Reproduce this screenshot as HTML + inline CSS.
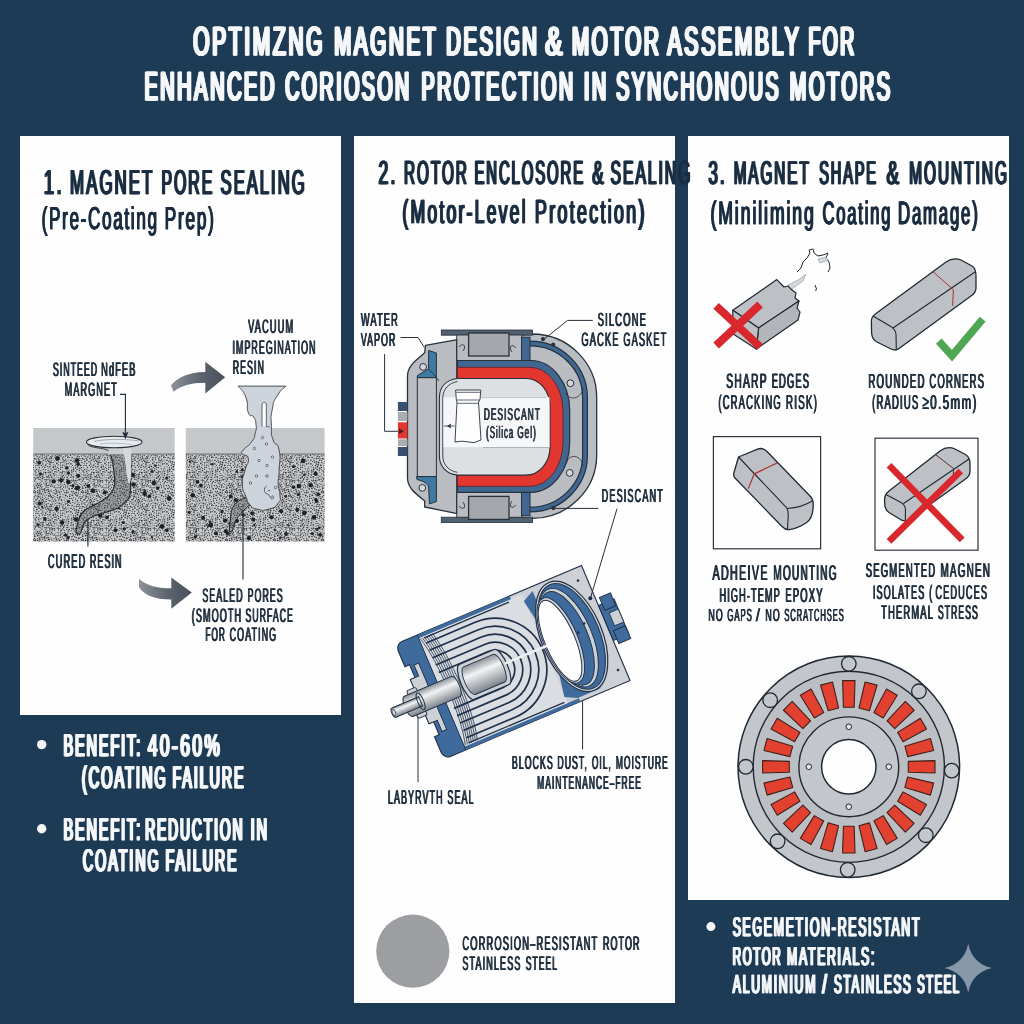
<!DOCTYPE html>
<html><head><meta charset="utf-8"><title>Optimizing Magnet Design</title>
<style>
html,body{margin:0;padding:0;background:#1e3b56;}
body{width:1024px;height:1024px;overflow:hidden;}
svg{display:block;font-family:"Liberation Sans",sans-serif;text-rendering:geometricPrecision;will-change:transform;}
</style></head><body>
<svg width="1024" height="1024" viewBox="0 0 1024 1024">
<rect x="0" y="0" width="1024" height="1024" fill="#1e3b56"/>
<rect x="20" y="136" width="321" height="579" fill="#fefefe"/>
<rect x="354" y="136" width="321" height="867" fill="#fefefe"/>
<rect x="688" y="136" width="321" height="764" fill="#fefefe"/>
<text x="192.27" y="55.2" font-size="40.4" font-weight="normal" fill="#f5f7f9" stroke="#f5f7f9" stroke-width="1.1" stroke-linejoin="round" letter-spacing="0.132em" textLength="131.9" lengthAdjust="spacingAndGlyphs">OPTIMZNG</text>
<text x="192.94" y="55.2" font-size="40.4" font-weight="normal" fill="#f5f7f9" stroke="#f5f7f9" stroke-width="1.1" stroke-linejoin="round" letter-spacing="0.132em" textLength="131.9" lengthAdjust="spacingAndGlyphs">OPTIMZNG</text>
<text x="193.60" y="55.2" font-size="40.4" font-weight="normal" fill="#f5f7f9" stroke="#f5f7f9" stroke-width="1.1" stroke-linejoin="round" letter-spacing="0.132em" textLength="131.9" lengthAdjust="spacingAndGlyphs">OPTIMZNG</text>
<text x="194.27" y="55.2" font-size="40.4" font-weight="normal" fill="#f5f7f9" stroke="#f5f7f9" stroke-width="1.1" stroke-linejoin="round" letter-spacing="0.132em" textLength="131.9" lengthAdjust="spacingAndGlyphs">OPTIMZNG</text>
<text x="333.17" y="55.2" font-size="40.4" font-weight="normal" fill="#f5f7f9" stroke="#f5f7f9" stroke-width="1.1" stroke-linejoin="round" letter-spacing="0.132em" textLength="104.0" lengthAdjust="spacingAndGlyphs">MAGNET</text>
<text x="333.84" y="55.2" font-size="40.4" font-weight="normal" fill="#f5f7f9" stroke="#f5f7f9" stroke-width="1.1" stroke-linejoin="round" letter-spacing="0.132em" textLength="104.0" lengthAdjust="spacingAndGlyphs">MAGNET</text>
<text x="334.50" y="55.2" font-size="40.4" font-weight="normal" fill="#f5f7f9" stroke="#f5f7f9" stroke-width="1.1" stroke-linejoin="round" letter-spacing="0.132em" textLength="104.0" lengthAdjust="spacingAndGlyphs">MAGNET</text>
<text x="335.17" y="55.2" font-size="40.4" font-weight="normal" fill="#f5f7f9" stroke="#f5f7f9" stroke-width="1.1" stroke-linejoin="round" letter-spacing="0.132em" textLength="104.0" lengthAdjust="spacingAndGlyphs">MAGNET</text>
<text x="445.27" y="55.2" font-size="40.4" font-weight="normal" fill="#f5f7f9" stroke="#f5f7f9" stroke-width="1.1" stroke-linejoin="round" letter-spacing="0.132em" textLength="93.3" lengthAdjust="spacingAndGlyphs">DESIGN</text>
<text x="445.94" y="55.2" font-size="40.4" font-weight="normal" fill="#f5f7f9" stroke="#f5f7f9" stroke-width="1.1" stroke-linejoin="round" letter-spacing="0.132em" textLength="93.3" lengthAdjust="spacingAndGlyphs">DESIGN</text>
<text x="446.60" y="55.2" font-size="40.4" font-weight="normal" fill="#f5f7f9" stroke="#f5f7f9" stroke-width="1.1" stroke-linejoin="round" letter-spacing="0.132em" textLength="93.3" lengthAdjust="spacingAndGlyphs">DESIGN</text>
<text x="447.27" y="55.2" font-size="40.4" font-weight="normal" fill="#f5f7f9" stroke="#f5f7f9" stroke-width="1.1" stroke-linejoin="round" letter-spacing="0.132em" textLength="93.3" lengthAdjust="spacingAndGlyphs">DESIGN</text>
<text x="544.37" y="55.2" font-size="40.4" font-weight="normal" fill="#f5f7f9" stroke="#f5f7f9" stroke-width="1.1" stroke-linejoin="round" letter-spacing="0.132em" textLength="20.4" lengthAdjust="spacingAndGlyphs">&amp;</text>
<text x="545.04" y="55.2" font-size="40.4" font-weight="normal" fill="#f5f7f9" stroke="#f5f7f9" stroke-width="1.1" stroke-linejoin="round" letter-spacing="0.132em" textLength="20.4" lengthAdjust="spacingAndGlyphs">&amp;</text>
<text x="545.70" y="55.2" font-size="40.4" font-weight="normal" fill="#f5f7f9" stroke="#f5f7f9" stroke-width="1.1" stroke-linejoin="round" letter-spacing="0.132em" textLength="20.4" lengthAdjust="spacingAndGlyphs">&amp;</text>
<text x="546.37" y="55.2" font-size="40.4" font-weight="normal" fill="#f5f7f9" stroke="#f5f7f9" stroke-width="1.1" stroke-linejoin="round" letter-spacing="0.132em" textLength="20.4" lengthAdjust="spacingAndGlyphs">&amp;</text>
<text x="570.97" y="55.2" font-size="40.4" font-weight="normal" fill="#f5f7f9" stroke="#f5f7f9" stroke-width="1.1" stroke-linejoin="round" letter-spacing="0.132em" textLength="89.5" lengthAdjust="spacingAndGlyphs">MOTOR</text>
<text x="571.64" y="55.2" font-size="40.4" font-weight="normal" fill="#f5f7f9" stroke="#f5f7f9" stroke-width="1.1" stroke-linejoin="round" letter-spacing="0.132em" textLength="89.5" lengthAdjust="spacingAndGlyphs">MOTOR</text>
<text x="572.30" y="55.2" font-size="40.4" font-weight="normal" fill="#f5f7f9" stroke="#f5f7f9" stroke-width="1.1" stroke-linejoin="round" letter-spacing="0.132em" textLength="89.5" lengthAdjust="spacingAndGlyphs">MOTOR</text>
<text x="572.97" y="55.2" font-size="40.4" font-weight="normal" fill="#f5f7f9" stroke="#f5f7f9" stroke-width="1.1" stroke-linejoin="round" letter-spacing="0.132em" textLength="89.5" lengthAdjust="spacingAndGlyphs">MOTOR</text>
<text x="666.57" y="55.2" font-size="40.4" font-weight="normal" fill="#f5f7f9" stroke="#f5f7f9" stroke-width="1.1" stroke-linejoin="round" letter-spacing="0.132em" textLength="133.9" lengthAdjust="spacingAndGlyphs">ASSEMBLY</text>
<text x="667.24" y="55.2" font-size="40.4" font-weight="normal" fill="#f5f7f9" stroke="#f5f7f9" stroke-width="1.1" stroke-linejoin="round" letter-spacing="0.132em" textLength="133.9" lengthAdjust="spacingAndGlyphs">ASSEMBLY</text>
<text x="667.90" y="55.2" font-size="40.4" font-weight="normal" fill="#f5f7f9" stroke="#f5f7f9" stroke-width="1.1" stroke-linejoin="round" letter-spacing="0.132em" textLength="133.9" lengthAdjust="spacingAndGlyphs">ASSEMBLY</text>
<text x="668.57" y="55.2" font-size="40.4" font-weight="normal" fill="#f5f7f9" stroke="#f5f7f9" stroke-width="1.1" stroke-linejoin="round" letter-spacing="0.132em" textLength="133.9" lengthAdjust="spacingAndGlyphs">ASSEMBLY</text>
<text x="807.47" y="55.2" font-size="40.4" font-weight="normal" fill="#f5f7f9" stroke="#f5f7f9" stroke-width="1.1" stroke-linejoin="round" letter-spacing="0.132em" textLength="48.4" lengthAdjust="spacingAndGlyphs">FOR</text>
<text x="808.14" y="55.2" font-size="40.4" font-weight="normal" fill="#f5f7f9" stroke="#f5f7f9" stroke-width="1.1" stroke-linejoin="round" letter-spacing="0.132em" textLength="48.4" lengthAdjust="spacingAndGlyphs">FOR</text>
<text x="808.80" y="55.2" font-size="40.4" font-weight="normal" fill="#f5f7f9" stroke="#f5f7f9" stroke-width="1.1" stroke-linejoin="round" letter-spacing="0.132em" textLength="48.4" lengthAdjust="spacingAndGlyphs">FOR</text>
<text x="809.47" y="55.2" font-size="40.4" font-weight="normal" fill="#f5f7f9" stroke="#f5f7f9" stroke-width="1.1" stroke-linejoin="round" letter-spacing="0.132em" textLength="48.4" lengthAdjust="spacingAndGlyphs">FOR</text>
<text x="143.47" y="100.4" font-size="40.4" font-weight="normal" fill="#f5f7f9" stroke="#f5f7f9" stroke-width="1.1" stroke-linejoin="round" letter-spacing="0.132em" textLength="132.5" lengthAdjust="spacingAndGlyphs">ENHANCED</text>
<text x="144.14" y="100.4" font-size="40.4" font-weight="normal" fill="#f5f7f9" stroke="#f5f7f9" stroke-width="1.1" stroke-linejoin="round" letter-spacing="0.132em" textLength="132.5" lengthAdjust="spacingAndGlyphs">ENHANCED</text>
<text x="144.80" y="100.4" font-size="40.4" font-weight="normal" fill="#f5f7f9" stroke="#f5f7f9" stroke-width="1.1" stroke-linejoin="round" letter-spacing="0.132em" textLength="132.5" lengthAdjust="spacingAndGlyphs">ENHANCED</text>
<text x="145.47" y="100.4" font-size="40.4" font-weight="normal" fill="#f5f7f9" stroke="#f5f7f9" stroke-width="1.1" stroke-linejoin="round" letter-spacing="0.132em" textLength="132.5" lengthAdjust="spacingAndGlyphs">ENHANCED</text>
<text x="284.17" y="100.4" font-size="40.4" font-weight="normal" fill="#f5f7f9" stroke="#f5f7f9" stroke-width="1.1" stroke-linejoin="round" letter-spacing="0.132em" textLength="126.6" lengthAdjust="spacingAndGlyphs">CORIOSON</text>
<text x="284.84" y="100.4" font-size="40.4" font-weight="normal" fill="#f5f7f9" stroke="#f5f7f9" stroke-width="1.1" stroke-linejoin="round" letter-spacing="0.132em" textLength="126.6" lengthAdjust="spacingAndGlyphs">CORIOSON</text>
<text x="285.50" y="100.4" font-size="40.4" font-weight="normal" fill="#f5f7f9" stroke="#f5f7f9" stroke-width="1.1" stroke-linejoin="round" letter-spacing="0.132em" textLength="126.6" lengthAdjust="spacingAndGlyphs">CORIOSON</text>
<text x="286.17" y="100.4" font-size="40.4" font-weight="normal" fill="#f5f7f9" stroke="#f5f7f9" stroke-width="1.1" stroke-linejoin="round" letter-spacing="0.132em" textLength="126.6" lengthAdjust="spacingAndGlyphs">CORIOSON</text>
<text x="420.57" y="100.4" font-size="40.4" font-weight="normal" fill="#f5f7f9" stroke="#f5f7f9" stroke-width="1.1" stroke-linejoin="round" letter-spacing="0.132em" textLength="154.2" lengthAdjust="spacingAndGlyphs">PROTECTION</text>
<text x="421.24" y="100.4" font-size="40.4" font-weight="normal" fill="#f5f7f9" stroke="#f5f7f9" stroke-width="1.1" stroke-linejoin="round" letter-spacing="0.132em" textLength="154.2" lengthAdjust="spacingAndGlyphs">PROTECTION</text>
<text x="421.90" y="100.4" font-size="40.4" font-weight="normal" fill="#f5f7f9" stroke="#f5f7f9" stroke-width="1.1" stroke-linejoin="round" letter-spacing="0.132em" textLength="154.2" lengthAdjust="spacingAndGlyphs">PROTECTION</text>
<text x="422.57" y="100.4" font-size="40.4" font-weight="normal" fill="#f5f7f9" stroke="#f5f7f9" stroke-width="1.1" stroke-linejoin="round" letter-spacing="0.132em" textLength="154.2" lengthAdjust="spacingAndGlyphs">PROTECTION</text>
<text x="583.07" y="100.4" font-size="40.4" font-weight="normal" fill="#f5f7f9" stroke="#f5f7f9" stroke-width="1.1" stroke-linejoin="round" letter-spacing="0.132em" textLength="24.7" lengthAdjust="spacingAndGlyphs">IN</text>
<text x="583.74" y="100.4" font-size="40.4" font-weight="normal" fill="#f5f7f9" stroke="#f5f7f9" stroke-width="1.1" stroke-linejoin="round" letter-spacing="0.132em" textLength="24.7" lengthAdjust="spacingAndGlyphs">IN</text>
<text x="584.40" y="100.4" font-size="40.4" font-weight="normal" fill="#f5f7f9" stroke="#f5f7f9" stroke-width="1.1" stroke-linejoin="round" letter-spacing="0.132em" textLength="24.7" lengthAdjust="spacingAndGlyphs">IN</text>
<text x="585.07" y="100.4" font-size="40.4" font-weight="normal" fill="#f5f7f9" stroke="#f5f7f9" stroke-width="1.1" stroke-linejoin="round" letter-spacing="0.132em" textLength="24.7" lengthAdjust="spacingAndGlyphs">IN</text>
<text x="615.27" y="100.4" font-size="40.4" font-weight="normal" fill="#f5f7f9" stroke="#f5f7f9" stroke-width="1.1" stroke-linejoin="round" letter-spacing="0.132em" textLength="164.7" lengthAdjust="spacingAndGlyphs">SYNCHONOUS</text>
<text x="615.94" y="100.4" font-size="40.4" font-weight="normal" fill="#f5f7f9" stroke="#f5f7f9" stroke-width="1.1" stroke-linejoin="round" letter-spacing="0.132em" textLength="164.7" lengthAdjust="spacingAndGlyphs">SYNCHONOUS</text>
<text x="616.60" y="100.4" font-size="40.4" font-weight="normal" fill="#f5f7f9" stroke="#f5f7f9" stroke-width="1.1" stroke-linejoin="round" letter-spacing="0.132em" textLength="164.7" lengthAdjust="spacingAndGlyphs">SYNCHONOUS</text>
<text x="617.27" y="100.4" font-size="40.4" font-weight="normal" fill="#f5f7f9" stroke="#f5f7f9" stroke-width="1.1" stroke-linejoin="round" letter-spacing="0.132em" textLength="164.7" lengthAdjust="spacingAndGlyphs">SYNCHONOUS</text>
<text x="788.67" y="100.4" font-size="40.4" font-weight="normal" fill="#f5f7f9" stroke="#f5f7f9" stroke-width="1.1" stroke-linejoin="round" letter-spacing="0.132em" textLength="103.0" lengthAdjust="spacingAndGlyphs">MOTORS</text>
<text x="789.34" y="100.4" font-size="40.4" font-weight="normal" fill="#f5f7f9" stroke="#f5f7f9" stroke-width="1.1" stroke-linejoin="round" letter-spacing="0.132em" textLength="103.0" lengthAdjust="spacingAndGlyphs">MOTORS</text>
<text x="790.00" y="100.4" font-size="40.4" font-weight="normal" fill="#f5f7f9" stroke="#f5f7f9" stroke-width="1.1" stroke-linejoin="round" letter-spacing="0.132em" textLength="103.0" lengthAdjust="spacingAndGlyphs">MOTORS</text>
<text x="790.67" y="100.4" font-size="40.4" font-weight="normal" fill="#f5f7f9" stroke="#f5f7f9" stroke-width="1.1" stroke-linejoin="round" letter-spacing="0.132em" textLength="103.0" lengthAdjust="spacingAndGlyphs">MOTORS</text>
<text x="43.03" y="194.0" font-size="34.5" font-weight="normal" fill="#1b2e42" stroke="#1b2e42" stroke-width="0.45" stroke-linejoin="round" letter-spacing="0.124em" textLength="20.3" lengthAdjust="spacingAndGlyphs">1.</text>
<text x="43.78" y="194.0" font-size="34.5" font-weight="normal" fill="#1b2e42" stroke="#1b2e42" stroke-width="0.45" stroke-linejoin="round" letter-spacing="0.124em" textLength="20.3" lengthAdjust="spacingAndGlyphs">1.</text>
<text x="44.53" y="194.0" font-size="34.5" font-weight="normal" fill="#1b2e42" stroke="#1b2e42" stroke-width="0.45" stroke-linejoin="round" letter-spacing="0.124em" textLength="20.3" lengthAdjust="spacingAndGlyphs">1.</text>
<text x="69.33" y="194.0" font-size="34.5" font-weight="normal" fill="#1b2e42" stroke="#1b2e42" stroke-width="0.45" stroke-linejoin="round" letter-spacing="0.124em" textLength="84.4" lengthAdjust="spacingAndGlyphs">MAGNET</text>
<text x="70.08" y="194.0" font-size="34.5" font-weight="normal" fill="#1b2e42" stroke="#1b2e42" stroke-width="0.45" stroke-linejoin="round" letter-spacing="0.124em" textLength="84.4" lengthAdjust="spacingAndGlyphs">MAGNET</text>
<text x="70.83" y="194.0" font-size="34.5" font-weight="normal" fill="#1b2e42" stroke="#1b2e42" stroke-width="0.45" stroke-linejoin="round" letter-spacing="0.124em" textLength="84.4" lengthAdjust="spacingAndGlyphs">MAGNET</text>
<text x="160.73" y="194.0" font-size="34.5" font-weight="normal" fill="#1b2e42" stroke="#1b2e42" stroke-width="0.45" stroke-linejoin="round" letter-spacing="0.124em" textLength="52.7" lengthAdjust="spacingAndGlyphs">PORE</text>
<text x="161.48" y="194.0" font-size="34.5" font-weight="normal" fill="#1b2e42" stroke="#1b2e42" stroke-width="0.45" stroke-linejoin="round" letter-spacing="0.124em" textLength="52.7" lengthAdjust="spacingAndGlyphs">PORE</text>
<text x="162.23" y="194.0" font-size="34.5" font-weight="normal" fill="#1b2e42" stroke="#1b2e42" stroke-width="0.45" stroke-linejoin="round" letter-spacing="0.124em" textLength="52.7" lengthAdjust="spacingAndGlyphs">PORE</text>
<text x="219.83" y="194.0" font-size="34.5" font-weight="normal" fill="#1b2e42" stroke="#1b2e42" stroke-width="0.45" stroke-linejoin="round" letter-spacing="0.124em" textLength="86.1" lengthAdjust="spacingAndGlyphs">SEALING</text>
<text x="220.58" y="194.0" font-size="34.5" font-weight="normal" fill="#1b2e42" stroke="#1b2e42" stroke-width="0.45" stroke-linejoin="round" letter-spacing="0.124em" textLength="86.1" lengthAdjust="spacingAndGlyphs">SEALING</text>
<text x="221.33" y="194.0" font-size="34.5" font-weight="normal" fill="#1b2e42" stroke="#1b2e42" stroke-width="0.45" stroke-linejoin="round" letter-spacing="0.124em" textLength="86.1" lengthAdjust="spacingAndGlyphs">SEALING</text>
<text x="41.32" y="228.6" font-size="31.5" font-weight="normal" fill="#1b2e42" stroke="#1b2e42" stroke-width="0.45" stroke-linejoin="round" letter-spacing="0.102em" textLength="117.0" lengthAdjust="spacingAndGlyphs">(Pre-Coating</text>
<text x="41.72" y="228.6" font-size="31.5" font-weight="normal" fill="#1b2e42" stroke="#1b2e42" stroke-width="0.45" stroke-linejoin="round" letter-spacing="0.102em" textLength="117.0" lengthAdjust="spacingAndGlyphs">(Pre-Coating</text>
<text x="42.12" y="228.6" font-size="31.5" font-weight="normal" fill="#1b2e42" stroke="#1b2e42" stroke-width="0.45" stroke-linejoin="round" letter-spacing="0.102em" textLength="117.0" lengthAdjust="spacingAndGlyphs">(Pre-Coating</text>
<text x="164.32" y="228.6" font-size="31.5" font-weight="normal" fill="#1b2e42" stroke="#1b2e42" stroke-width="0.45" stroke-linejoin="round" letter-spacing="0.102em" textLength="51.0" lengthAdjust="spacingAndGlyphs">Prep)</text>
<text x="164.72" y="228.6" font-size="31.5" font-weight="normal" fill="#1b2e42" stroke="#1b2e42" stroke-width="0.45" stroke-linejoin="round" letter-spacing="0.102em" textLength="51.0" lengthAdjust="spacingAndGlyphs">Prep)</text>
<text x="165.12" y="228.6" font-size="31.5" font-weight="normal" fill="#1b2e42" stroke="#1b2e42" stroke-width="0.45" stroke-linejoin="round" letter-spacing="0.102em" textLength="51.0" lengthAdjust="spacingAndGlyphs">Prep)</text>
<text x="247.75" y="333.4" font-size="19.5" font-weight="normal" fill="#1f2e3d" letter-spacing="0.125em" textLength="46.1" lengthAdjust="spacingAndGlyphs">VACUUM</text>
<text x="248.18" y="333.4" font-size="19.5" font-weight="normal" fill="#1f2e3d" letter-spacing="0.125em" textLength="46.1" lengthAdjust="spacingAndGlyphs">VACUUM</text>
<text x="248.61" y="333.4" font-size="19.5" font-weight="normal" fill="#1f2e3d" letter-spacing="0.125em" textLength="46.1" lengthAdjust="spacingAndGlyphs">VACUUM</text>
<text x="232.05" y="353.7" font-size="19.5" font-weight="normal" fill="#1f2e3d" letter-spacing="0.125em" textLength="84.1" lengthAdjust="spacingAndGlyphs">IMPREGINATION</text>
<text x="232.48" y="353.7" font-size="19.5" font-weight="normal" fill="#1f2e3d" letter-spacing="0.125em" textLength="84.1" lengthAdjust="spacingAndGlyphs">IMPREGINATION</text>
<text x="232.91" y="353.7" font-size="19.5" font-weight="normal" fill="#1f2e3d" letter-spacing="0.125em" textLength="84.1" lengthAdjust="spacingAndGlyphs">IMPREGINATION</text>
<text x="232.35" y="374.2" font-size="19.5" font-weight="normal" fill="#1f2e3d" letter-spacing="0.125em" textLength="32.2" lengthAdjust="spacingAndGlyphs">RESIN</text>
<text x="232.78" y="374.2" font-size="19.5" font-weight="normal" fill="#1f2e3d" letter-spacing="0.125em" textLength="32.2" lengthAdjust="spacingAndGlyphs">RESIN</text>
<text x="233.21" y="374.2" font-size="19.5" font-weight="normal" fill="#1f2e3d" letter-spacing="0.125em" textLength="32.2" lengthAdjust="spacingAndGlyphs">RESIN</text>
<text x="52.55" y="376.0" font-size="19.5" font-weight="normal" fill="#1f2e3d" letter-spacing="0.125em" textLength="45.2" lengthAdjust="spacingAndGlyphs">SINTEED</text>
<text x="52.98" y="376.0" font-size="19.5" font-weight="normal" fill="#1f2e3d" letter-spacing="0.125em" textLength="45.2" lengthAdjust="spacingAndGlyphs">SINTEED</text>
<text x="53.41" y="376.0" font-size="19.5" font-weight="normal" fill="#1f2e3d" letter-spacing="0.125em" textLength="45.2" lengthAdjust="spacingAndGlyphs">SINTEED</text>
<text x="100.75" y="376.0" font-size="19.5" font-weight="normal" fill="#1f2e3d" letter-spacing="0.125em" textLength="35.3" lengthAdjust="spacingAndGlyphs">NdFEB</text>
<text x="101.18" y="376.0" font-size="19.5" font-weight="normal" fill="#1f2e3d" letter-spacing="0.125em" textLength="35.3" lengthAdjust="spacingAndGlyphs">NdFEB</text>
<text x="101.61" y="376.0" font-size="19.5" font-weight="normal" fill="#1f2e3d" letter-spacing="0.125em" textLength="35.3" lengthAdjust="spacingAndGlyphs">NdFEB</text>
<text x="64.25" y="396.0" font-size="19.5" font-weight="normal" fill="#1f2e3d" letter-spacing="0.125em" textLength="53.1" lengthAdjust="spacingAndGlyphs">MARGNET</text>
<text x="64.68" y="396.0" font-size="19.5" font-weight="normal" fill="#1f2e3d" letter-spacing="0.125em" textLength="53.1" lengthAdjust="spacingAndGlyphs">MARGNET</text>
<text x="65.11" y="396.0" font-size="19.5" font-weight="normal" fill="#1f2e3d" letter-spacing="0.125em" textLength="53.1" lengthAdjust="spacingAndGlyphs">MARGNET</text>
<text x="47.44" y="567.8" font-size="20" font-weight="normal" fill="#1f2e3d" letter-spacing="0.125em" textLength="38.5" lengthAdjust="spacingAndGlyphs">CURED</text>
<text x="47.88" y="567.8" font-size="20" font-weight="normal" fill="#1f2e3d" letter-spacing="0.125em" textLength="38.5" lengthAdjust="spacingAndGlyphs">CURED</text>
<text x="48.32" y="567.8" font-size="20" font-weight="normal" fill="#1f2e3d" letter-spacing="0.125em" textLength="38.5" lengthAdjust="spacingAndGlyphs">CURED</text>
<text x="89.44" y="567.8" font-size="20" font-weight="normal" fill="#1f2e3d" letter-spacing="0.125em" textLength="32.7" lengthAdjust="spacingAndGlyphs">RESIN</text>
<text x="89.88" y="567.8" font-size="20" font-weight="normal" fill="#1f2e3d" letter-spacing="0.125em" textLength="32.7" lengthAdjust="spacingAndGlyphs">RESIN</text>
<text x="90.32" y="567.8" font-size="20" font-weight="normal" fill="#1f2e3d" letter-spacing="0.125em" textLength="32.7" lengthAdjust="spacingAndGlyphs">RESIN</text>
<text x="201.95" y="602.0" font-size="19.5" font-weight="normal" fill="#1f2e3d" letter-spacing="0.125em" textLength="41.3" lengthAdjust="spacingAndGlyphs">SEALED</text>
<text x="202.38" y="602.0" font-size="19.5" font-weight="normal" fill="#1f2e3d" letter-spacing="0.125em" textLength="41.3" lengthAdjust="spacingAndGlyphs">SEALED</text>
<text x="202.81" y="602.0" font-size="19.5" font-weight="normal" fill="#1f2e3d" letter-spacing="0.125em" textLength="41.3" lengthAdjust="spacingAndGlyphs">SEALED</text>
<text x="247.25" y="602.0" font-size="19.5" font-weight="normal" fill="#1f2e3d" letter-spacing="0.125em" textLength="36.0" lengthAdjust="spacingAndGlyphs">PORES</text>
<text x="247.68" y="602.0" font-size="19.5" font-weight="normal" fill="#1f2e3d" letter-spacing="0.125em" textLength="36.0" lengthAdjust="spacingAndGlyphs">PORES</text>
<text x="248.11" y="602.0" font-size="19.5" font-weight="normal" fill="#1f2e3d" letter-spacing="0.125em" textLength="36.0" lengthAdjust="spacingAndGlyphs">PORES</text>
<text x="191.35" y="621.8" font-size="19.5" font-weight="normal" fill="#1f2e3d" letter-spacing="0.125em" textLength="50.4" lengthAdjust="spacingAndGlyphs">(SMOOTH</text>
<text x="191.78" y="621.8" font-size="19.5" font-weight="normal" fill="#1f2e3d" letter-spacing="0.125em" textLength="50.4" lengthAdjust="spacingAndGlyphs">(SMOOTH</text>
<text x="192.21" y="621.8" font-size="19.5" font-weight="normal" fill="#1f2e3d" letter-spacing="0.125em" textLength="50.4" lengthAdjust="spacingAndGlyphs">(SMOOTH</text>
<text x="245.05" y="621.8" font-size="19.5" font-weight="normal" fill="#1f2e3d" letter-spacing="0.125em" textLength="48.5" lengthAdjust="spacingAndGlyphs">SURFACE</text>
<text x="245.48" y="621.8" font-size="19.5" font-weight="normal" fill="#1f2e3d" letter-spacing="0.125em" textLength="48.5" lengthAdjust="spacingAndGlyphs">SURFACE</text>
<text x="245.91" y="621.8" font-size="19.5" font-weight="normal" fill="#1f2e3d" letter-spacing="0.125em" textLength="48.5" lengthAdjust="spacingAndGlyphs">SURFACE</text>
<text x="205.05" y="641.4" font-size="19.5" font-weight="normal" fill="#1f2e3d" letter-spacing="0.125em" textLength="20.4" lengthAdjust="spacingAndGlyphs">FOR</text>
<text x="205.48" y="641.4" font-size="19.5" font-weight="normal" fill="#1f2e3d" letter-spacing="0.125em" textLength="20.4" lengthAdjust="spacingAndGlyphs">FOR</text>
<text x="205.91" y="641.4" font-size="19.5" font-weight="normal" fill="#1f2e3d" letter-spacing="0.125em" textLength="20.4" lengthAdjust="spacingAndGlyphs">FOR</text>
<text x="229.25" y="641.4" font-size="19.5" font-weight="normal" fill="#1f2e3d" letter-spacing="0.125em" textLength="47.5" lengthAdjust="spacingAndGlyphs">COATING</text>
<text x="229.68" y="641.4" font-size="19.5" font-weight="normal" fill="#1f2e3d" letter-spacing="0.125em" textLength="47.5" lengthAdjust="spacingAndGlyphs">COATING</text>
<text x="230.11" y="641.4" font-size="19.5" font-weight="normal" fill="#1f2e3d" letter-spacing="0.125em" textLength="47.5" lengthAdjust="spacingAndGlyphs">COATING</text>
<defs><pattern id="stip" width="48" height="48" patternUnits="userSpaceOnUse"><rect width="48" height="48" fill="#c9cacb"/><circle cx="15.5" cy="7.2" r="0.59" fill="#33363a"/><circle cx="31.2" cy="3.5" r="0.52" fill="#33363a"/><circle cx="25.7" cy="17.6" r="0.55" fill="#33363a"/><circle cx="2.8" cy="24.4" r="0.76" fill="#33363a"/><circle cx="1.8" cy="20.8" r="0.72" fill="#33363a"/><circle cx="3.4" cy="4.4" r="0.65" fill="#33363a"/><circle cx="20.4" cy="39.7" r="0.78" fill="#33363a"/><circle cx="5.9" cy="10.7" r="0.59" fill="#33363a"/><circle cx="30.1" cy="45.5" r="0.74" fill="#33363a"/><circle cx="27.7" cy="19.0" r="0.67" fill="#33363a"/><circle cx="46.9" cy="2.2" r="0.56" fill="#33363a"/><circle cx="41.2" cy="13.9" r="0.81" fill="#33363a"/><circle cx="6.9" cy="5.7" r="0.57" fill="#33363a"/><circle cx="14.8" cy="39.2" r="0.82" fill="#33363a"/><circle cx="8.7" cy="27.9" r="0.80" fill="#33363a"/><circle cx="30.7" cy="17.9" r="0.67" fill="#33363a"/><circle cx="26.3" cy="3.0" r="0.68" fill="#33363a"/><circle cx="2.9" cy="9.9" r="0.58" fill="#33363a"/><circle cx="32.7" cy="20.5" r="0.56" fill="#33363a"/><circle cx="15.1" cy="28.1" r="0.78" fill="#33363a"/><circle cx="21.8" cy="14.4" r="0.65" fill="#33363a"/><circle cx="38.1" cy="33.6" r="0.73" fill="#33363a"/><circle cx="11.7" cy="27.6" r="0.65" fill="#33363a"/><circle cx="25.2" cy="42.0" r="0.61" fill="#33363a"/><circle cx="35.0" cy="13.8" r="0.57" fill="#33363a"/><circle cx="47.0" cy="5.7" r="0.80" fill="#33363a"/><circle cx="-1.0" cy="5.7" r="0.80" fill="#33363a"/><circle cx="20.1" cy="36.3" r="0.67" fill="#33363a"/><circle cx="7.3" cy="23.5" r="0.56" fill="#33363a"/><circle cx="1.9" cy="32.1" r="0.85" fill="#33363a"/><circle cx="36.7" cy="27.5" r="0.56" fill="#33363a"/><circle cx="33.4" cy="28.5" r="0.59" fill="#33363a"/><circle cx="27.8" cy="21.9" r="0.56" fill="#33363a"/><circle cx="40.3" cy="45.3" r="0.72" fill="#33363a"/><circle cx="22.8" cy="31.9" r="0.81" fill="#33363a"/><circle cx="2.9" cy="33.7" r="0.51" fill="#33363a"/><circle cx="31.1" cy="47.7" r="0.87" fill="#33363a"/><circle cx="31.1" cy="-0.3" r="0.87" fill="#33363a"/><circle cx="39.5" cy="13.7" r="0.78" fill="#33363a"/><circle cx="18.5" cy="32.1" r="0.83" fill="#33363a"/><circle cx="2.8" cy="36.9" r="0.67" fill="#33363a"/><circle cx="18.8" cy="41.8" r="0.67" fill="#33363a"/><circle cx="3.9" cy="21.6" r="0.54" fill="#33363a"/><circle cx="39.3" cy="41.5" r="0.60" fill="#33363a"/><circle cx="13.4" cy="19.9" r="0.85" fill="#33363a"/><circle cx="46.0" cy="7.2" r="0.61" fill="#33363a"/><circle cx="8.5" cy="11.1" r="0.86" fill="#33363a"/><circle cx="11.2" cy="23.3" r="0.83" fill="#33363a"/><circle cx="28.3" cy="12.6" r="0.87" fill="#33363a"/><circle cx="0.2" cy="20.1" r="0.56" fill="#33363a"/><circle cx="48.2" cy="20.1" r="0.56" fill="#33363a"/><circle cx="17.7" cy="27.2" r="0.67" fill="#33363a"/><circle cx="45.7" cy="33.1" r="0.83" fill="#33363a"/><circle cx="24.7" cy="29.6" r="0.62" fill="#33363a"/><circle cx="43.2" cy="37.4" r="0.60" fill="#33363a"/><circle cx="18.8" cy="19.2" r="0.51" fill="#33363a"/><circle cx="5.0" cy="30.4" r="0.71" fill="#33363a"/><circle cx="10.0" cy="7.8" r="0.72" fill="#33363a"/><circle cx="16.3" cy="2.5" r="0.58" fill="#33363a"/><circle cx="0.0" cy="7.3" r="0.60" fill="#33363a"/><circle cx="48.0" cy="7.3" r="0.60" fill="#33363a"/><circle cx="4.9" cy="17.5" r="0.75" fill="#33363a"/><circle cx="1.2" cy="42.0" r="0.57" fill="#33363a"/><circle cx="29.5" cy="7.1" r="0.81" fill="#33363a"/><circle cx="12.1" cy="16.7" r="0.85" fill="#33363a"/><circle cx="17.5" cy="5.9" r="0.67" fill="#33363a"/><circle cx="40.7" cy="47.7" r="0.55" fill="#33363a"/><circle cx="40.7" cy="-0.3" r="0.55" fill="#33363a"/><circle cx="22.4" cy="23.2" r="0.73" fill="#33363a"/><circle cx="16.4" cy="12.7" r="0.62" fill="#33363a"/><circle cx="39.8" cy="7.7" r="0.54" fill="#33363a"/><circle cx="1.1" cy="45.6" r="0.78" fill="#33363a"/><circle cx="25.4" cy="7.0" r="0.72" fill="#33363a"/><circle cx="25.3" cy="47.0" r="0.61" fill="#33363a"/><circle cx="41.4" cy="33.4" r="0.60" fill="#33363a"/><circle cx="8.0" cy="37.1" r="0.79" fill="#33363a"/><circle cx="25.6" cy="37.4" r="0.87" fill="#33363a"/><circle cx="15.8" cy="10.7" r="0.64" fill="#33363a"/><circle cx="39.0" cy="47.3" r="0.73" fill="#33363a"/><circle cx="39.0" cy="-0.7" r="0.73" fill="#33363a"/><circle cx="40.9" cy="38.7" r="0.59" fill="#33363a"/><circle cx="39.3" cy="35.5" r="0.69" fill="#33363a"/><circle cx="1.3" cy="13.4" r="0.73" fill="#33363a"/><circle cx="12.4" cy="33.2" r="0.62" fill="#33363a"/><circle cx="45.9" cy="21.5" r="0.74" fill="#33363a"/><circle cx="45.0" cy="47.4" r="0.72" fill="#33363a"/><circle cx="45.0" cy="-0.6" r="0.72" fill="#33363a"/><circle cx="45.8" cy="17.5" r="0.52" fill="#33363a"/><circle cx="10.6" cy="10.9" r="0.55" fill="#33363a"/><circle cx="30.0" cy="43.2" r="0.67" fill="#33363a"/><circle cx="40.3" cy="23.0" r="0.56" fill="#33363a"/><circle cx="31.3" cy="38.4" r="0.72" fill="#33363a"/><circle cx="36.0" cy="22.9" r="0.74" fill="#33363a"/><circle cx="19.3" cy="45.4" r="0.75" fill="#33363a"/><circle cx="34.8" cy="8.2" r="0.85" fill="#33363a"/><circle cx="6.1" cy="7.3" r="0.74" fill="#33363a"/><circle cx="7.0" cy="39.7" r="0.81" fill="#33363a"/><circle cx="47.1" cy="31.5" r="0.55" fill="#33363a"/><circle cx="-0.9" cy="31.5" r="0.55" fill="#33363a"/><circle cx="6.3" cy="0.7" r="0.85" fill="#33363a"/><circle cx="6.3" cy="48.7" r="0.85" fill="#33363a"/><circle cx="25.3" cy="44.8" r="0.87" fill="#33363a"/><circle cx="20.8" cy="41.8" r="0.74" fill="#33363a"/><circle cx="39.7" cy="10.1" r="0.83" fill="#33363a"/><circle cx="12.1" cy="14.1" r="0.72" fill="#33363a"/><circle cx="6.3" cy="43.7" r="0.67" fill="#33363a"/><circle cx="17.0" cy="22.0" r="0.56" fill="#33363a"/><circle cx="28.0" cy="43.4" r="0.69" fill="#33363a"/><circle cx="24.1" cy="25.5" r="0.79" fill="#33363a"/><circle cx="25.1" cy="0.9" r="0.82" fill="#33363a"/><circle cx="25.1" cy="48.9" r="0.82" fill="#33363a"/><circle cx="21.1" cy="8.8" r="0.86" fill="#33363a"/><circle cx="0.2" cy="38.4" r="0.71" fill="#33363a"/><circle cx="48.2" cy="38.4" r="0.71" fill="#33363a"/><circle cx="34.8" cy="26.7" r="0.88" fill="#33363a"/><circle cx="15.6" cy="24.9" r="0.65" fill="#33363a"/><circle cx="5.1" cy="26.9" r="0.51" fill="#33363a"/><circle cx="37.1" cy="24.4" r="0.67" fill="#33363a"/><circle cx="43.8" cy="21.3" r="0.72" fill="#33363a"/><circle cx="29.4" cy="24.3" r="0.81" fill="#33363a"/><circle cx="24.6" cy="33.3" r="0.59" fill="#33363a"/><circle cx="21.7" cy="25.6" r="0.51" fill="#33363a"/><circle cx="22.9" cy="45.2" r="0.79" fill="#33363a"/><circle cx="33.6" cy="42.1" r="0.58" fill="#33363a"/><circle cx="45.2" cy="12.5" r="0.84" fill="#33363a"/><circle cx="5.8" cy="21.2" r="0.73" fill="#33363a"/><circle cx="3.5" cy="11.6" r="0.55" fill="#33363a"/><circle cx="37.6" cy="43.1" r="0.71" fill="#33363a"/><circle cx="7.4" cy="34.4" r="0.81" fill="#33363a"/><circle cx="31.7" cy="6.9" r="0.59" fill="#33363a"/><circle cx="42.4" cy="46.4" r="0.88" fill="#33363a"/><circle cx="10.5" cy="45.7" r="0.52" fill="#33363a"/><circle cx="19.1" cy="23.4" r="0.56" fill="#33363a"/><circle cx="7.8" cy="20.7" r="0.74" fill="#33363a"/><circle cx="9.4" cy="15.3" r="0.77" fill="#33363a"/><circle cx="34.7" cy="0.9" r="0.74" fill="#33363a"/><circle cx="34.7" cy="48.9" r="0.74" fill="#33363a"/><circle cx="0.9" cy="15.9" r="0.87" fill="#33363a"/><circle cx="48.9" cy="15.9" r="0.87" fill="#33363a"/><circle cx="3.1" cy="47.3" r="0.58" fill="#33363a"/><circle cx="3.1" cy="-0.7" r="0.58" fill="#33363a"/><circle cx="5.0" cy="12.7" r="0.52" fill="#33363a"/><circle cx="13.0" cy="6.2" r="0.71" fill="#33363a"/><circle cx="20.3" cy="43.7" r="0.64" fill="#33363a"/><circle cx="27.4" cy="33.6" r="0.66" fill="#33363a"/><circle cx="4.3" cy="2.8" r="0.66" fill="#33363a"/><circle cx="3.5" cy="45.0" r="0.85" fill="#33363a"/><circle cx="4.0" cy="41.1" r="0.61" fill="#33363a"/><circle cx="21.8" cy="16.3" r="0.78" fill="#33363a"/><circle cx="25.3" cy="11.4" r="0.73" fill="#33363a"/><circle cx="15.0" cy="14.6" r="0.61" fill="#33363a"/><circle cx="24.0" cy="8.5" r="0.86" fill="#33363a"/><circle cx="12.0" cy="0.7" r="0.60" fill="#33363a"/><circle cx="12.0" cy="48.7" r="0.60" fill="#33363a"/><circle cx="9.1" cy="22.8" r="0.62" fill="#33363a"/><circle cx="44.9" cy="5.1" r="0.58" fill="#33363a"/><circle cx="39.3" cy="20.7" r="0.78" fill="#33363a"/><circle cx="23.8" cy="40.1" r="0.78" fill="#33363a"/><circle cx="33.0" cy="47.2" r="0.65" fill="#33363a"/><circle cx="33.0" cy="-0.8" r="0.65" fill="#33363a"/><circle cx="16.4" cy="39.9" r="0.55" fill="#33363a"/><circle cx="33.9" cy="30.5" r="0.74" fill="#33363a"/><circle cx="19.4" cy="16.7" r="0.63" fill="#33363a"/><circle cx="2.6" cy="6.2" r="0.72" fill="#33363a"/><circle cx="12.3" cy="7.8" r="0.76" fill="#33363a"/><circle cx="13.5" cy="11.6" r="0.50" fill="#33363a"/><circle cx="14.1" cy="22.1" r="0.52" fill="#33363a"/><circle cx="12.6" cy="46.2" r="0.83" fill="#33363a"/><circle cx="46.7" cy="26.3" r="0.85" fill="#33363a"/><circle cx="14.9" cy="17.1" r="0.53" fill="#33363a"/><circle cx="0.1" cy="18.3" r="0.59" fill="#33363a"/><circle cx="48.1" cy="18.3" r="0.59" fill="#33363a"/><circle cx="4.3" cy="19.2" r="0.67" fill="#33363a"/><circle cx="2.0" cy="1.1" r="0.83" fill="#33363a"/><circle cx="36.0" cy="31.6" r="0.62" fill="#33363a"/><circle cx="2.1" cy="40.1" r="0.88" fill="#33363a"/><circle cx="42.8" cy="30.1" r="0.54" fill="#33363a"/><circle cx="35.2" cy="39.0" r="0.86" fill="#33363a"/><circle cx="6.7" cy="25.1" r="0.52" fill="#33363a"/><circle cx="38.6" cy="39.7" r="0.74" fill="#33363a"/><circle cx="32.8" cy="33.3" r="0.89" fill="#33363a"/><circle cx="26.8" cy="30.1" r="0.79" fill="#33363a"/><circle cx="30.1" cy="32.7" r="0.87" fill="#33363a"/><circle cx="23.5" cy="0.2" r="0.64" fill="#33363a"/><circle cx="23.5" cy="48.2" r="0.64" fill="#33363a"/><circle cx="35.4" cy="12.1" r="0.88" fill="#33363a"/><circle cx="35.5" cy="46.8" r="0.86" fill="#33363a"/><circle cx="23.7" cy="18.4" r="0.61" fill="#33363a"/><circle cx="36.8" cy="29.6" r="0.81" fill="#33363a"/><circle cx="27.3" cy="0.6" r="0.87" fill="#33363a"/><circle cx="27.3" cy="48.6" r="0.87" fill="#33363a"/><circle cx="32.4" cy="14.0" r="0.59" fill="#33363a"/><circle cx="24.8" cy="22.3" r="0.66" fill="#33363a"/><circle cx="22.4" cy="5.7" r="0.81" fill="#33363a"/><circle cx="42.9" cy="9.6" r="0.73" fill="#33363a"/><circle cx="47.0" cy="44.9" r="0.87" fill="#33363a"/><circle cx="11.1" cy="43.1" r="0.67" fill="#33363a"/><circle cx="0.2" cy="23.6" r="0.68" fill="#33363a"/><circle cx="48.2" cy="23.6" r="0.68" fill="#33363a"/><circle cx="6.8" cy="16.5" r="0.57" fill="#33363a"/><circle cx="0.1" cy="36.0" r="0.61" fill="#33363a"/><circle cx="48.1" cy="36.0" r="0.61" fill="#33363a"/><circle cx="40.3" cy="5.8" r="0.85" fill="#33363a"/><circle cx="43.3" cy="13.9" r="0.60" fill="#33363a"/><circle cx="47.9" cy="28.3" r="0.86" fill="#33363a"/><circle cx="-0.1" cy="28.3" r="0.86" fill="#33363a"/><circle cx="13.2" cy="2.3" r="0.82" fill="#33363a"/><circle cx="14.3" cy="35.5" r="0.73" fill="#33363a"/><circle cx="8.0" cy="7.8" r="0.62" fill="#33363a"/><circle cx="9.2" cy="4.4" r="0.50" fill="#33363a"/><circle cx="16.4" cy="4.4" r="0.55" fill="#33363a"/><circle cx="11.5" cy="12.4" r="0.83" fill="#33363a"/><circle cx="36.0" cy="19.8" r="0.88" fill="#33363a"/><circle cx="19.9" cy="25.2" r="0.88" fill="#33363a"/><circle cx="19.2" cy="21.4" r="0.61" fill="#33363a"/><circle cx="45.8" cy="40.7" r="0.87" fill="#33363a"/><circle cx="41.9" cy="1.0" r="0.68" fill="#33363a"/><circle cx="18.6" cy="10.7" r="0.65" fill="#33363a"/><circle cx="42.4" cy="22.8" r="0.86" fill="#33363a"/><circle cx="14.8" cy="1.0" r="0.83" fill="#33363a"/><circle cx="20.2" cy="12.3" r="0.77" fill="#33363a"/><circle cx="32.0" cy="44.4" r="0.61" fill="#33363a"/><circle cx="16.2" cy="20.2" r="0.54" fill="#33363a"/><circle cx="32.8" cy="9.5" r="0.57" fill="#33363a"/><circle cx="46.6" cy="15.0" r="0.61" fill="#33363a"/><circle cx="10.6" cy="36.5" r="0.58" fill="#33363a"/><circle cx="10.7" cy="20.0" r="0.73" fill="#33363a"/><circle cx="7.0" cy="18.9" r="0.63" fill="#33363a"/><circle cx="6.8" cy="2.5" r="0.59" fill="#33363a"/><circle cx="43.1" cy="42.4" r="0.85" fill="#33363a"/><circle cx="44.7" cy="15.8" r="0.65" fill="#33363a"/><circle cx="8.9" cy="44.9" r="0.50" fill="#33363a"/><circle cx="8.1" cy="0.1" r="0.50" fill="#33363a"/><circle cx="8.1" cy="48.1" r="0.50" fill="#33363a"/><circle cx="46.3" cy="10.0" r="0.72" fill="#33363a"/><circle cx="17.9" cy="44.1" r="0.51" fill="#33363a"/><circle cx="9.3" cy="17.5" r="0.72" fill="#33363a"/><circle cx="36.8" cy="2.0" r="0.51" fill="#33363a"/><circle cx="1.7" cy="3.0" r="0.69" fill="#33363a"/><circle cx="35.9" cy="43.1" r="0.75" fill="#33363a"/><circle cx="46.0" cy="29.6" r="0.72" fill="#33363a"/><circle cx="45.3" cy="1.2" r="0.59" fill="#33363a"/><circle cx="44.5" cy="8.8" r="0.84" fill="#33363a"/><circle cx="29.1" cy="15.7" r="0.89" fill="#33363a"/><circle cx="37.5" cy="3.8" r="0.83" fill="#33363a"/><circle cx="1.6" cy="26.5" r="0.87" fill="#33363a"/><circle cx="15.6" cy="47.1" r="0.89" fill="#33363a"/><circle cx="15.6" cy="-0.9" r="0.89" fill="#33363a"/><circle cx="12.7" cy="4.0" r="0.65" fill="#33363a"/><circle cx="4.6" cy="23.9" r="0.72" fill="#33363a"/><circle cx="35.9" cy="40.7" r="0.67" fill="#33363a"/><circle cx="19.0" cy="47.6" r="0.81" fill="#33363a"/><circle cx="19.0" cy="-0.4" r="0.81" fill="#33363a"/><circle cx="38.8" cy="31.4" r="0.57" fill="#33363a"/><circle cx="12.5" cy="37.3" r="0.59" fill="#33363a"/><circle cx="28.6" cy="29.8" r="0.68" fill="#33363a"/><circle cx="38.2" cy="26.3" r="0.72" fill="#33363a"/><circle cx="7.0" cy="13.6" r="0.90" fill="#33363a"/><circle cx="23.2" cy="2.6" r="0.63" fill="#33363a"/><circle cx="44.5" cy="18.6" r="0.50" fill="#33363a"/><circle cx="37.7" cy="10.7" r="0.66" fill="#33363a"/><circle cx="28.8" cy="26.4" r="0.85" fill="#33363a"/><circle cx="20.2" cy="28.0" r="0.54" fill="#33363a"/><circle cx="20.4" cy="31.6" r="0.71" fill="#33363a"/><circle cx="21.4" cy="21.0" r="0.74" fill="#33363a"/><circle cx="1.1" cy="29.7" r="0.84" fill="#33363a"/><circle cx="23.5" cy="11.3" r="0.63" fill="#33363a"/><circle cx="36.7" cy="37.4" r="0.74" fill="#33363a"/><circle cx="3.1" cy="16.8" r="0.88" fill="#33363a"/><circle cx="24.3" cy="15.3" r="0.89" fill="#33363a"/><circle cx="41.9" cy="26.6" r="0.73" fill="#33363a"/><circle cx="17.3" cy="36.7" r="0.64" fill="#33363a"/><circle cx="28.1" cy="31.9" r="0.76" fill="#33363a"/><circle cx="29.6" cy="20.7" r="0.79" fill="#33363a"/><circle cx="28.3" cy="9.8" r="0.77" fill="#33363a"/><circle cx="45.0" cy="35.2" r="0.77" fill="#33363a"/><circle cx="10.8" cy="5.1" r="0.65" fill="#33363a"/><circle cx="12.7" cy="30.8" r="0.79" fill="#33363a"/><circle cx="35.8" cy="15.7" r="0.64" fill="#33363a"/><circle cx="42.2" cy="15.8" r="0.59" fill="#33363a"/><circle cx="21.0" cy="34.8" r="0.54" fill="#33363a"/><circle cx="27.4" cy="14.8" r="0.72" fill="#33363a"/><circle cx="10.2" cy="29.9" r="0.57" fill="#33363a"/><circle cx="33.5" cy="35.4" r="0.61" fill="#33363a"/><circle cx="3.2" cy="28.3" r="0.62" fill="#33363a"/><circle cx="43.9" cy="45.3" r="0.65" fill="#33363a"/><circle cx="30.3" cy="13.8" r="0.67" fill="#33363a"/><circle cx="17.7" cy="15.4" r="0.89" fill="#33363a"/><circle cx="46.3" cy="24.2" r="0.71" fill="#33363a"/><circle cx="40.9" cy="29.7" r="0.72" fill="#33363a"/><circle cx="16.6" cy="33.8" r="0.66" fill="#33363a"/><circle cx="41.4" cy="4.4" r="0.72" fill="#33363a"/><circle cx="0.1" cy="9.7" r="0.83" fill="#33363a"/><circle cx="48.1" cy="9.7" r="0.83" fill="#33363a"/><circle cx="23.6" cy="38.2" r="0.71" fill="#33363a"/><circle cx="33.6" cy="23.9" r="0.70" fill="#33363a"/><circle cx="33.5" cy="37.8" r="0.64" fill="#33363a"/><circle cx="42.5" cy="11.4" r="0.57" fill="#33363a"/><circle cx="4.9" cy="46.2" r="0.59" fill="#33363a"/><circle cx="18.6" cy="1.6" r="0.54" fill="#33363a"/><circle cx="19.2" cy="38.0" r="0.61" fill="#33363a"/><circle cx="6.8" cy="29.0" r="0.52" fill="#33363a"/><circle cx="27.6" cy="36.0" r="0.67" fill="#33363a"/><circle cx="15.0" cy="30.2" r="0.73" fill="#33363a"/><circle cx="30.2" cy="12.0" r="0.55" fill="#33363a"/><circle cx="8.8" cy="31.4" r="0.80" fill="#33363a"/><circle cx="37.4" cy="18.7" r="0.68" fill="#33363a"/><circle cx="39.8" cy="25.0" r="0.75" fill="#33363a"/><circle cx="10.1" cy="32.8" r="0.67" fill="#33363a"/><circle cx="10.5" cy="38.5" r="0.82" fill="#33363a"/><circle cx="6.2" cy="37.3" r="0.77" fill="#33363a"/><circle cx="17.0" cy="30.7" r="0.55" fill="#33363a"/><circle cx="40.0" cy="17.0" r="0.72" fill="#33363a"/><circle cx="8.1" cy="42.8" r="0.61" fill="#33363a"/><circle cx="29.2" cy="37.5" r="0.80" fill="#33363a"/><circle cx="25.5" cy="35.6" r="0.65" fill="#33363a"/><circle cx="0.3" cy="40.4" r="0.59" fill="#33363a"/><circle cx="48.3" cy="40.4" r="0.59" fill="#33363a"/><circle cx="31.9" cy="40.3" r="0.51" fill="#33363a"/><circle cx="30.6" cy="30.5" r="0.89" fill="#33363a"/><circle cx="24.2" cy="13.0" r="0.55" fill="#33363a"/><circle cx="19.8" cy="4.9" r="0.60" fill="#33363a"/><circle cx="30.9" cy="10.2" r="0.87" fill="#33363a"/><circle cx="35.0" cy="4.0" r="0.52" fill="#33363a"/><circle cx="45.4" cy="37.7" r="0.66" fill="#33363a"/><circle cx="38.0" cy="22.1" r="0.67" fill="#33363a"/><circle cx="4.2" cy="38.7" r="0.77" fill="#33363a"/><circle cx="22.9" cy="28.3" r="0.81" fill="#33363a"/><circle cx="37.8" cy="7.5" r="0.89" fill="#33363a"/><circle cx="43.7" cy="3.1" r="0.63" fill="#33363a"/><circle cx="10.6" cy="1.9" r="0.53" fill="#33363a"/><circle cx="40.2" cy="2.3" r="0.59" fill="#33363a"/><circle cx="36.2" cy="45.1" r="0.50" fill="#33363a"/><circle cx="5.1" cy="15.5" r="0.61" fill="#33363a"/><circle cx="15.3" cy="43.4" r="0.75" fill="#33363a"/><circle cx="2.7" cy="43.0" r="0.86" fill="#33363a"/><circle cx="12.4" cy="9.7" r="0.54" fill="#33363a"/><circle cx="27.4" cy="6.6" r="0.61" fill="#33363a"/><circle cx="39.0" cy="28.0" r="0.86" fill="#33363a"/><circle cx="8.9" cy="39.9" r="0.73" fill="#33363a"/><circle cx="17.6" cy="7.8" r="0.66" fill="#33363a"/><circle cx="28.4" cy="41.3" r="0.53" fill="#33363a"/><circle cx="20.9" cy="47.1" r="0.52" fill="#33363a"/><circle cx="20.9" cy="-0.9" r="0.52" fill="#33363a"/><circle cx="26.7" cy="23.6" r="0.59" fill="#33363a"/><circle cx="41.8" cy="21.1" r="0.75" fill="#33363a"/><circle cx="35.5" cy="35.7" r="0.52" fill="#33363a"/><circle cx="27.9" cy="4.2" r="0.70" fill="#33363a"/><circle cx="32.9" cy="18.7" r="0.83" fill="#33363a"/><circle cx="21.1" cy="30.0" r="0.50" fill="#33363a"/><circle cx="25.4" cy="39.2" r="0.61" fill="#33363a"/><circle cx="24.6" cy="5.3" r="0.67" fill="#33363a"/><circle cx="14.7" cy="33.2" r="0.74" fill="#33363a"/><circle cx="34.3" cy="17.0" r="0.79" fill="#33363a"/><circle cx="21.6" cy="18.5" r="0.77" fill="#33363a"/><circle cx="28.0" cy="46.1" r="0.67" fill="#33363a"/><circle cx="31.9" cy="16.4" r="0.64" fill="#33363a"/><circle cx="43.2" cy="28.2" r="0.75" fill="#33363a"/><circle cx="17.4" cy="24.0" r="0.68" fill="#33363a"/><circle cx="33.6" cy="11.9" r="0.87" fill="#33363a"/><circle cx="7.8" cy="9.5" r="0.71" fill="#33363a"/><circle cx="24.7" cy="20.2" r="0.73" fill="#33363a"/><circle cx="36.3" cy="5.5" r="0.77" fill="#33363a"/><circle cx="40.6" cy="18.9" r="0.69" fill="#33363a"/><circle cx="28.3" cy="2.1" r="0.70" fill="#33363a"/><circle cx="13.1" cy="24.0" r="0.77" fill="#33363a"/><circle cx="9.0" cy="25.8" r="0.74" fill="#33363a"/><circle cx="29.5" cy="34.8" r="0.90" fill="#33363a"/><circle cx="25.9" cy="28.2" r="0.62" fill="#33363a"/><circle cx="26.7" cy="8.7" r="0.70" fill="#33363a"/><circle cx="5.2" cy="35.2" r="0.89" fill="#33363a"/><circle cx="23.3" cy="42.8" r="0.83" fill="#33363a"/><circle cx="0.5" cy="43.8" r="0.72" fill="#33363a"/><circle cx="48.5" cy="43.8" r="0.72" fill="#33363a"/><circle cx="32.8" cy="4.3" r="0.62" fill="#33363a"/><circle cx="33.1" cy="1.8" r="0.57" fill="#33363a"/><circle cx="1.0" cy="47.6" r="0.67" fill="#33363a"/><circle cx="1.0" cy="-0.4" r="0.67" fill="#33363a"/><circle cx="49.0" cy="47.6" r="0.67" fill="#33363a"/><circle cx="49.0" cy="-0.4" r="0.67" fill="#33363a"/><circle cx="42.4" cy="35.1" r="0.67" fill="#33363a"/><circle cx="26.1" cy="26.3" r="0.67" fill="#33363a"/><circle cx="19.7" cy="6.9" r="0.60" fill="#33363a"/><circle cx="31.0" cy="26.3" r="0.69" fill="#33363a"/><circle cx="44.5" cy="25.4" r="0.73" fill="#33363a"/><circle cx="18.3" cy="39.9" r="0.54" fill="#33363a"/><circle cx="41.9" cy="7.0" r="0.76" fill="#33363a"/><circle cx="2.5" cy="15.1" r="0.78" fill="#33363a"/><circle cx="13.0" cy="42.9" r="0.58" fill="#33363a"/><circle cx="16.5" cy="45.3" r="0.60" fill="#33363a"/><circle cx="16.9" cy="18.0" r="0.52" fill="#33363a"/><circle cx="12.1" cy="40.2" r="0.69" fill="#33363a"/><circle cx="0.8" cy="5.3" r="0.77" fill="#33363a"/><circle cx="48.8" cy="5.3" r="0.77" fill="#33363a"/><circle cx="5.8" cy="32.8" r="0.66" fill="#33363a"/><circle cx="8.8" cy="13.0" r="0.74" fill="#33363a"/><circle cx="42.9" cy="32.0" r="0.74" fill="#33363a"/><circle cx="32.8" cy="26.8" r="0.52" fill="#33363a"/><circle cx="45.7" cy="42.8" r="0.52" fill="#33363a"/><circle cx="27.6" cy="39.6" r="0.70" fill="#33363a"/><circle cx="38.1" cy="16.7" r="0.87" fill="#33363a"/><circle cx="20.3" cy="3.0" r="0.78" fill="#33363a"/><circle cx="34.0" cy="21.8" r="0.68" fill="#33363a"/><circle cx="9.3" cy="35.3" r="0.60" fill="#33363a"/><circle cx="34.1" cy="45.4" r="0.55" fill="#33363a"/><circle cx="43.8" cy="40.2" r="0.76" fill="#33363a"/><circle cx="42.5" cy="44.2" r="0.81" fill="#33363a"/><circle cx="31.6" cy="28.2" r="0.66" fill="#33363a"/><circle cx="30.8" cy="22.6" r="0.53" fill="#33363a"/><circle cx="31.4" cy="24.6" r="0.61" fill="#33363a"/><circle cx="45.2" cy="27.7" r="0.78" fill="#33363a"/><circle cx="1.5" cy="34.8" r="0.81" fill="#33363a"/><circle cx="38.1" cy="14.9" r="0.66" fill="#33363a"/><circle cx="29.7" cy="5.0" r="0.85" fill="#33363a"/><circle cx="12.5" cy="35.6" r="0.66" fill="#33363a"/><circle cx="6.9" cy="45.9" r="0.51" fill="#33363a"/><circle cx="18.6" cy="29.2" r="0.58" fill="#33363a"/><circle cx="37.7" cy="12.5" r="0.86" fill="#33363a"/><circle cx="46.8" cy="47.8" r="0.78" fill="#33363a"/><circle cx="46.8" cy="-0.2" r="0.78" fill="#33363a"/><circle cx="21.1" cy="38.0" r="0.53" fill="#33363a"/><circle cx="34.6" cy="10.3" r="0.61" fill="#33363a"/><circle cx="42.5" cy="17.6" r="0.66" fill="#33363a"/><circle cx="46.4" cy="19.4" r="0.69" fill="#33363a"/><circle cx="43.7" cy="33.9" r="0.51" fill="#33363a"/><circle cx="3.4" cy="26.1" r="0.87" fill="#33363a"/><circle cx="38.4" cy="5.4" r="0.71" fill="#33363a"/><circle cx="17.0" cy="42.0" r="0.61" fill="#33363a"/><circle cx="23.2" cy="35.1" r="0.51" fill="#33363a"/><circle cx="40.9" cy="42.8" r="0.73" fill="#33363a"/><circle cx="10.2" cy="0.1" r="0.87" fill="#33363a"/><circle cx="10.2" cy="48.1" r="0.87" fill="#33363a"/><circle cx="39.9" cy="11.9" r="0.79" fill="#33363a"/><circle cx="42.8" cy="19.6" r="0.84" fill="#33363a"/><circle cx="18.4" cy="12.6" r="0.85" fill="#33363a"/><circle cx="11.4" cy="18.3" r="0.77" fill="#33363a"/><circle cx="44.5" cy="22.9" r="0.52" fill="#33363a"/><circle cx="36.0" cy="33.4" r="0.62" fill="#33363a"/><circle cx="11.4" cy="25.7" r="0.73" fill="#33363a"/><circle cx="14.5" cy="26.2" r="0.67" fill="#33363a"/><circle cx="47.3" cy="34.3" r="0.59" fill="#33363a"/><circle cx="-0.7" cy="34.3" r="0.59" fill="#33363a"/><circle cx="47.1" cy="12.3" r="0.53" fill="#33363a"/><circle cx="-0.9" cy="12.3" r="0.53" fill="#33363a"/><circle cx="14.1" cy="40.9" r="0.85" fill="#33363a"/><circle cx="16.8" cy="28.7" r="0.77" fill="#33363a"/><circle cx="34.2" cy="6.3" r="0.62" fill="#33363a"/><circle cx="38.9" cy="37.9" r="0.69" fill="#33363a"/><circle cx="46.2" cy="3.9" r="0.85" fill="#33363a"/><circle cx="14.8" cy="5.1" r="0.56" fill="#33363a"/><circle cx="44.4" cy="10.7" r="0.75" fill="#33363a"/><circle cx="29.2" cy="0.3" r="0.59" fill="#33363a"/><circle cx="29.2" cy="48.3" r="0.59" fill="#33363a"/><circle cx="37.9" cy="45.5" r="0.86" fill="#33363a"/><circle cx="26.3" cy="13.2" r="0.82" fill="#33363a"/><circle cx="5.9" cy="41.8" r="0.88" fill="#33363a"/><circle cx="41.2" cy="9.0" r="0.65" fill="#33363a"/><circle cx="4.4" cy="5.9" r="0.70" fill="#33363a"/><circle cx="39.4" cy="3.9" r="0.63" fill="#33363a"/><circle cx="42.3" cy="24.8" r="0.64" fill="#33363a"/><circle cx="31.8" cy="36.3" r="0.88" fill="#33363a"/><circle cx="0.9" cy="11.4" r="0.89" fill="#33363a"/><circle cx="48.9" cy="11.4" r="0.89" fill="#33363a"/><circle cx="2.9" cy="30.3" r="0.90" fill="#33363a"/><circle cx="4.2" cy="0.9" r="0.86" fill="#33363a"/><circle cx="4.2" cy="48.9" r="0.86" fill="#33363a"/><circle cx="14.3" cy="9.0" r="0.70" fill="#33363a"/><circle cx="21.3" cy="1.5" r="0.76" fill="#33363a"/><circle cx="14.2" cy="44.9" r="0.86" fill="#33363a"/><circle cx="39.3" cy="43.9" r="0.67" fill="#33363a"/></pattern><linearGradient id="arr" x1="0" x2="1" y1="0" y2="0"><stop offset="0" stop-color="#8d929a"/><stop offset="0.55" stop-color="#5b636e"/><stop offset="1" stop-color="#48505c"/></linearGradient></defs>
<rect x="33.2" y="428" width="141.5" height="26" fill="#c5c8ca"/>
<rect x="33.2" y="454" width="141.5" height="87.5" fill="url(#stip)"/>
<line x1="33.2" y1="454" x2="174.7" y2="454" stroke="#55595e" stroke-width="0.8"/>
<circle cx="68.4" cy="501.5" r="1.5" fill="#1f2226"/>
<circle cx="118.0" cy="508.1" r="1.1" fill="#1f2226"/>
<circle cx="38.0" cy="525.0" r="1.4" fill="#1f2226"/>
<circle cx="68.0" cy="537.7" r="1.7" fill="#1f2226"/>
<circle cx="149.5" cy="496.1" r="1.9" fill="#1f2226"/>
<circle cx="56.6" cy="508.8" r="2.2" fill="#1f2226"/>
<circle cx="107.1" cy="517.3" r="1.9" fill="#1f2226"/>
<circle cx="44.9" cy="518.7" r="1.8" fill="#1f2226"/>
<circle cx="77.0" cy="460.5" r="2.2" fill="#1f2226"/>
<circle cx="100.3" cy="515.5" r="2.2" fill="#1f2226"/>
<circle cx="133.0" cy="531.7" r="1.6" fill="#1f2226"/>
<circle cx="144.7" cy="493.6" r="2.3" fill="#1f2226"/>
<circle cx="155.3" cy="465.8" r="1.2" fill="#1f2226"/>
<circle cx="65.6" cy="535.2" r="1.6" fill="#1f2226"/>
<circle cx="121.1" cy="482.1" r="1.7" fill="#1f2226"/>
<circle cx="88.5" cy="486.1" r="1.8" fill="#1f2226"/>
<circle cx="115.4" cy="530.3" r="2.0" fill="#1f2226"/>
<circle cx="162.1" cy="526.5" r="2.4" fill="#1f2226"/>
<circle cx="127.2" cy="471.0" r="2.2" fill="#1f2226"/>
<circle cx="166.9" cy="530.4" r="1.8" fill="#1f2226"/>
<circle cx="132.9" cy="474.9" r="2.2" fill="#1f2226"/>
<circle cx="113.9" cy="480.8" r="1.1" fill="#1f2226"/>
<circle cx="151.9" cy="537.2" r="1.1" fill="#1f2226"/>
<circle cx="144.7" cy="490.8" r="1.2" fill="#1f2226"/>
<circle cx="76.0" cy="519.5" r="2.2" fill="#1f2226"/>
<circle cx="42.2" cy="507.2" r="1.1" fill="#1f2226"/>
<circle cx="133.5" cy="484.5" r="2.2" fill="#1f2226"/>
<circle cx="169.1" cy="498.4" r="2.4" fill="#1f2226"/>
<circle cx="78.2" cy="464.2" r="1.8" fill="#1f2226"/>
<circle cx="40.5" cy="473.8" r="1.6" fill="#1f2226"/>
<circle cx="118.9" cy="470.5" r="1.1" fill="#1f2226"/>
<circle cx="153.8" cy="483.1" r="2.3" fill="#1f2226"/>
<circle cx="157.7" cy="488.2" r="1.6" fill="#1f2226"/>
<circle cx="106.7" cy="509.5" r="1.8" fill="#1f2226"/>
<circle cx="112.0" cy="507.6" r="2.3" fill="#1f2226"/>
<circle cx="104.9" cy="492.5" r="2.0" fill="#1f2226"/>
<circle cx="68.4" cy="482.1" r="2.4" fill="#1f2226"/>
<circle cx="106.8" cy="501.9" r="1.0" fill="#1f2226"/>
<circle cx="92.5" cy="504.4" r="1.0" fill="#1f2226"/>
<circle cx="119.6" cy="508.6" r="1.1" fill="#1f2226"/>
<circle cx="121.2" cy="495.3" r="2.0" fill="#1f2226"/>
<circle cx="84.0" cy="514.6" r="2.0" fill="#1f2226"/>
<circle cx="39.2" cy="462.8" r="1.9" fill="#1f2226"/>
<circle cx="166.7" cy="478.1" r="1.6" fill="#1f2226"/>
<circle cx="116.5" cy="483.6" r="1.5" fill="#1f2226"/>
<circle cx="78.6" cy="487.5" r="1.8" fill="#1f2226"/>
<circle cx="76.9" cy="488.2" r="2.1" fill="#1f2226"/>
<circle cx="39.8" cy="503.5" r="2.0" fill="#1f2226"/>
<circle cx="78.2" cy="475.8" r="2.1" fill="#1f2226"/>
<circle cx="68.5" cy="473.0" r="1.6" fill="#1f2226"/>
<circle cx="130.8" cy="466.1" r="1.5" fill="#1f2226"/>
<circle cx="81.4" cy="524.7" r="1.6" fill="#1f2226"/>
<circle cx="152.1" cy="471.5" r="1.5" fill="#1f2226"/>
<circle cx="124.3" cy="528.8" r="1.6" fill="#1f2226"/>
<circle cx="66.7" cy="467.7" r="1.7" fill="#1f2226"/>
<circle cx="62.1" cy="522.5" r="2.2" fill="#1f2226"/>
<circle cx="61.1" cy="480.3" r="2.1" fill="#1f2226"/>
<circle cx="123.2" cy="522.5" r="1.5" fill="#1f2226"/>
<circle cx="53.8" cy="481.4" r="2.1" fill="#1f2226"/>
<circle cx="72.9" cy="485.7" r="1.6" fill="#1f2226"/>
<circle cx="93.1" cy="490.8" r="2.3" fill="#1f2226"/>
<circle cx="57.3" cy="458.4" r="2.3" fill="#1f2226"/>
<rect x="185.8" y="428" width="138.8" height="26" fill="#c5c8ca"/>
<rect x="185.8" y="454" width="138.8" height="87.5" fill="url(#stip)"/>
<line x1="185.8" y1="454" x2="324.6" y2="454" stroke="#55595e" stroke-width="0.8"/>
<circle cx="271.5" cy="517.3" r="2.1" fill="#1f2226"/>
<circle cx="314.0" cy="517.2" r="2.3" fill="#1f2226"/>
<circle cx="192.7" cy="495.2" r="2.3" fill="#1f2226"/>
<circle cx="275.0" cy="530.1" r="1.2" fill="#1f2226"/>
<circle cx="251.1" cy="477.7" r="1.8" fill="#1f2226"/>
<circle cx="265.0" cy="459.0" r="1.3" fill="#1f2226"/>
<circle cx="225.9" cy="531.3" r="2.1" fill="#1f2226"/>
<circle cx="210.0" cy="521.8" r="1.2" fill="#1f2226"/>
<circle cx="270.8" cy="468.1" r="1.0" fill="#1f2226"/>
<circle cx="304.5" cy="474.8" r="1.3" fill="#1f2226"/>
<circle cx="319.3" cy="527.8" r="1.4" fill="#1f2226"/>
<circle cx="316.5" cy="501.1" r="1.9" fill="#1f2226"/>
<circle cx="216.0" cy="533.3" r="2.0" fill="#1f2226"/>
<circle cx="317.2" cy="529.5" r="1.4" fill="#1f2226"/>
<circle cx="236.8" cy="471.3" r="1.2" fill="#1f2226"/>
<circle cx="197.5" cy="482.1" r="1.8" fill="#1f2226"/>
<circle cx="189.2" cy="512.2" r="1.5" fill="#1f2226"/>
<circle cx="230.0" cy="523.5" r="1.7" fill="#1f2226"/>
<circle cx="230.7" cy="496.5" r="2.0" fill="#1f2226"/>
<circle cx="196.4" cy="536.0" r="1.0" fill="#1f2226"/>
<circle cx="288.4" cy="525.6" r="1.0" fill="#1f2226"/>
<circle cx="293.4" cy="487.3" r="1.8" fill="#1f2226"/>
<circle cx="190.0" cy="461.7" r="1.3" fill="#1f2226"/>
<circle cx="315.6" cy="473.7" r="2.1" fill="#1f2226"/>
<circle cx="312.3" cy="533.4" r="1.5" fill="#1f2226"/>
<circle cx="235.9" cy="500.0" r="2.1" fill="#1f2226"/>
<circle cx="203.1" cy="517.9" r="2.1" fill="#1f2226"/>
<circle cx="303.0" cy="460.9" r="2.3" fill="#1f2226"/>
<circle cx="200.9" cy="485.3" r="1.9" fill="#1f2226"/>
<circle cx="310.7" cy="485.2" r="2.3" fill="#1f2226"/>
<circle cx="261.2" cy="483.0" r="1.4" fill="#1f2226"/>
<circle cx="212.4" cy="464.3" r="1.2" fill="#1f2226"/>
<circle cx="280.3" cy="537.7" r="1.2" fill="#1f2226"/>
<circle cx="195.2" cy="536.9" r="1.7" fill="#1f2226"/>
<circle cx="242.7" cy="477.0" r="1.8" fill="#1f2226"/>
<circle cx="298.5" cy="494.5" r="1.6" fill="#1f2226"/>
<circle cx="196.2" cy="531.3" r="1.0" fill="#1f2226"/>
<circle cx="254.3" cy="525.1" r="1.2" fill="#1f2226"/>
<circle cx="286.0" cy="534.0" r="1.9" fill="#1f2226"/>
<circle cx="293.4" cy="466.5" r="1.6" fill="#1f2226"/>
<circle cx="208.6" cy="525.6" r="1.4" fill="#1f2226"/>
<circle cx="249.0" cy="537.9" r="2.2" fill="#1f2226"/>
<circle cx="318.4" cy="494.3" r="1.7" fill="#1f2226"/>
<circle cx="285.7" cy="496.3" r="1.4" fill="#1f2226"/>
<circle cx="242.4" cy="469.7" r="1.5" fill="#1f2226"/>
<circle cx="320.1" cy="534.8" r="1.9" fill="#1f2226"/>
<circle cx="255.1" cy="485.1" r="1.1" fill="#1f2226"/>
<circle cx="225.0" cy="520.6" r="2.2" fill="#1f2226"/>
<circle cx="236.8" cy="520.9" r="2.1" fill="#1f2226"/>
<circle cx="281.0" cy="511.1" r="2.1" fill="#1f2226"/>
<circle cx="237.1" cy="514.4" r="1.4" fill="#1f2226"/>
<circle cx="253.3" cy="519.6" r="2.0" fill="#1f2226"/>
<circle cx="227.8" cy="533.6" r="1.9" fill="#1f2226"/>
<circle cx="265.9" cy="458.9" r="1.8" fill="#1f2226"/>
<circle cx="222.1" cy="511.7" r="1.6" fill="#1f2226"/>
<circle cx="297.3" cy="509.8" r="2.1" fill="#1f2226"/>
<circle cx="235.0" cy="509.5" r="2.0" fill="#1f2226"/>
<circle cx="298.8" cy="486.0" r="2.2" fill="#1f2226"/>
<circle cx="304.3" cy="513.1" r="2.4" fill="#1f2226"/>
<circle cx="315.8" cy="499.5" r="1.7" fill="#1f2226"/>
<circle cx="210.9" cy="524.9" r="2.3" fill="#1f2226"/>
<circle cx="252.2" cy="513.3" r="2.0" fill="#1f2226"/>
<path d="M110,454.4 C113,458 114,470 114.8,481.5 C115,494 104,500 94.4,505 C86,509 80.5,512 78.5,520 C77,526 75.2,531 76.3,533.2 C78,535 80.5,534 81.3,531.3 C82.5,526 83.5,523 85.7,521 C89,518 92,516.5 95.9,515.2 C104,512.5 112,511 117.9,507.9 C126,503 130,499 130.3,493.2 L131.1,454.4 Z" fill="url(#stip)"/>
<path d="M110,454.4 C113,458 114,470 114.8,481.5 C115,494 104,500 94.4,505 C86,509 80.5,512 78.5,520 C77,526 75.2,531 76.3,533.2 C78,535 80.5,534 81.3,531.3 C82.5,526 83.5,523 85.7,521 C89,518 92,516.5 95.9,515.2 C104,512.5 112,511 117.9,507.9 C126,503 130,499 130.3,493.2 L131.1,454.4 Z" fill="#4a4e54" fill-opacity="0.36" stroke="#23272c" stroke-width="1.1"/>
<path d="M122.5,447 L131.3,447 L131.1,476 C130.8,482 129.5,484 128.5,483 C127,478 126,468 124.5,458 Z" fill="#d3d8dc"/>
<rect x="108" y="446" width="23.5" height="8.6" fill="#c9cdd0"/>
<path d="M122.5,447 L131.3,447 L131.1,456 L124,456 Z" fill="#d3d8dc"/>
<ellipse cx="114.2" cy="442" rx="27.8" ry="5.8" fill="#e6ebef" stroke="#2a2f35" stroke-width="1.1"/>
<path d="M94,441.5 C104,438.8 126,438.8 139,441" fill="none" stroke="#9aa2aa" stroke-width="0.9"/>
<path d="M100,444 C110,442.5 124,443.5 132,444.5" fill="none" stroke="#aab1b8" stroke-width="0.8"/>
<path d="M87.5,444.5 C92,448.5 103,447.5 108.5,450.5" fill="none" stroke="#2a2f35" stroke-width="0.9"/>
<path d="M120,394.4 H125.4 V433" fill="none" stroke="#1d2b38" stroke-width="1.1"/>
<path d="M122.3,431.8 L125.4,439.2 L128.5,431.8 L125.4,433.3 Z" fill="#1d2b38"/>
<line x1="87.9" y1="519.6" x2="87.9" y2="546.5" stroke="#1d2b38" stroke-width="1.1"/>
<path d="M245.8,497.5 C238,500 232.5,505 231.3,511.7 C230,519 229.8,526 229.3,531.3 L232.3,531.5 C233.5,525 235,520.5 238.1,516.8 C241,513 245,509 249.5,505 Z" fill="url(#stip)"/>
<path d="M245.8,497.5 C238,500 232.5,505 231.3,511.7 C230,519 229.8,526 229.3,531.3 L232.3,531.5 C233.5,525 235,520.5 238.1,516.8 C241,513 245,509 249.5,505 Z" fill="#4a4e54" fill-opacity="0.36" stroke="#23272c" stroke-width="1"/>
<path d="M238.1,386.1 C240.7,389.8 242.4,388.4 245.8,397.2 C249.2,406.0 245.7,406.0 248.3,412.6 C250.9,419.2 250.9,412.9 253.5,416.9 C256.1,420.9 255.4,419.1 256.0,424.5 C256.6,429.9 256.6,427.4 255.2,433.1 C253.8,438.8 255.8,435.9 251.8,441.6 C247.8,447.3 246.3,446.1 243.2,450.2 C240.1,454.3 240.9,451.2 242.6,454.0 C244.3,456.8 247.5,453.1 248.3,458.7 C249.1,464.3 246.9,462.2 244.9,470.7 C242.9,479.2 242.1,475.8 242.4,484.3 C242.7,492.8 243.3,489.5 245.8,496.3 C248.3,503.1 246.3,500.5 250.0,504.8 C253.7,509.1 250.6,507.7 256.9,509.1 C263.2,510.5 261.7,511.1 268.8,509.1 C275.9,507.1 274.5,507.9 278.2,503.1 C281.9,498.3 279.9,500.9 279.9,494.6 C279.9,488.3 278.5,492.3 278.2,484.3 C277.9,476.3 278.8,482.1 279.1,470.7 C279.4,459.3 281.1,460.5 279.1,450.2 C277.1,439.9 275.7,447.9 273.1,439.9 C270.5,431.9 271.7,436.5 271.4,426.3 C271.1,416.1 270.3,419.5 272.3,409.2 C274.3,398.9 272.9,403.2 277.4,395.5 C281.9,387.8 283.1,389.2 285.9,386.1 Z" fill="#ccd3da" stroke="#3a4048" stroke-width="0.9" stroke-linejoin="round"/>
<path d="M262,426.5 L262,405 C262,401.5 266.3,401.5 266.3,405 L266.3,426.5 L269.5,427" fill="#fefefe" stroke="#3a4048" stroke-width="0.8"/>
<rect x="262.5" y="426" width="3.4" height="3" fill="#ccd3da"/>
<circle cx="262.5" cy="437.5" r="1.2" fill="#e4e9ee" stroke="#3a4048" stroke-width="0.7"/>
<circle cx="266.5" cy="444" r="1.2" fill="#e4e9ee" stroke="#3a4048" stroke-width="0.7"/>
<circle cx="254.5" cy="448.5" r="1.2" fill="#e4e9ee" stroke="#3a4048" stroke-width="0.7"/>
<circle cx="272.5" cy="457" r="1.2" fill="#e4e9ee" stroke="#3a4048" stroke-width="0.7"/>
<circle cx="259" cy="460.5" r="1.2" fill="#e4e9ee" stroke="#3a4048" stroke-width="0.7"/>
<circle cx="267" cy="465.5" r="1.2" fill="#e4e9ee" stroke="#3a4048" stroke-width="0.7"/>
<circle cx="256.5" cy="476" r="1.2" fill="#e4e9ee" stroke="#3a4048" stroke-width="0.7"/>
<circle cx="267" cy="476" r="1.2" fill="#e4e9ee" stroke="#3a4048" stroke-width="0.7"/>
<circle cx="250.5" cy="483" r="1.2" fill="#e4e9ee" stroke="#3a4048" stroke-width="0.7"/>
<circle cx="275.5" cy="487.5" r="1.2" fill="#e4e9ee" stroke="#3a4048" stroke-width="0.7"/>
<path d="M266.5,486 c-3,2 -3,7 1,8 c3,1 2,5 5,5 M268,490.5 h2 M271,497 c2,-2 3,-1 2,2" fill="none" stroke="#3a4048" stroke-width="0.8"/>
<circle cx="243.2" cy="515.1" r="1.8" fill="#23272c"/>
<line x1="243" y1="511" x2="243" y2="579.5" stroke="#1d2b38" stroke-width="1.1"/>
<path d="M170.9,385.5 C177,377.5 189,372 205.3,371.9 L205.3,361.7 L225.2,377.3 L205.3,393.4 L205.3,382.8 C191,382.8 181,385.5 173.7,391.8 Z" fill="url(#arr)"/>
<path d="M139,579 C146,585 156,588.3 171.3,588.3 L171.3,577.6 L191.8,592.4 L171.3,608.8 L171.3,599.6 C157,599.5 145,596.5 139,587.3 Z" fill="url(#arr)"/>
<circle cx="41.7" cy="744.6" r="4.7" fill="#f5f7f9"/>
<circle cx="41.7" cy="828.8" r="4.7" fill="#f5f7f9"/>
<text x="62.73" y="755.5" font-size="31.2" font-weight="normal" fill="#f5f7f9" stroke="#f5f7f9" stroke-width="0.45" stroke-linejoin="round" letter-spacing="0.142em" textLength="78.7" lengthAdjust="spacingAndGlyphs">BENEFIT:</text>
<text x="63.33" y="755.5" font-size="31.2" font-weight="normal" fill="#f5f7f9" stroke="#f5f7f9" stroke-width="0.45" stroke-linejoin="round" letter-spacing="0.142em" textLength="78.7" lengthAdjust="spacingAndGlyphs">BENEFIT:</text>
<text x="63.93" y="755.5" font-size="31.2" font-weight="normal" fill="#f5f7f9" stroke="#f5f7f9" stroke-width="0.45" stroke-linejoin="round" letter-spacing="0.142em" textLength="78.7" lengthAdjust="spacingAndGlyphs">BENEFIT:</text>
<text x="64.53" y="755.5" font-size="31.2" font-weight="normal" fill="#f5f7f9" stroke="#f5f7f9" stroke-width="0.45" stroke-linejoin="round" letter-spacing="0.142em" textLength="78.7" lengthAdjust="spacingAndGlyphs">BENEFIT:</text>
<text x="146.93" y="755.5" font-size="31.2" font-weight="normal" fill="#f5f7f9" stroke="#f5f7f9" stroke-width="0.45" stroke-linejoin="round" letter-spacing="0.142em" textLength="74.5" lengthAdjust="spacingAndGlyphs">40-60%</text>
<text x="147.53" y="755.5" font-size="31.2" font-weight="normal" fill="#f5f7f9" stroke="#f5f7f9" stroke-width="0.45" stroke-linejoin="round" letter-spacing="0.142em" textLength="74.5" lengthAdjust="spacingAndGlyphs">40-60%</text>
<text x="148.13" y="755.5" font-size="31.2" font-weight="normal" fill="#f5f7f9" stroke="#f5f7f9" stroke-width="0.45" stroke-linejoin="round" letter-spacing="0.142em" textLength="74.5" lengthAdjust="spacingAndGlyphs">40-60%</text>
<text x="148.73" y="755.5" font-size="31.2" font-weight="normal" fill="#f5f7f9" stroke="#f5f7f9" stroke-width="0.45" stroke-linejoin="round" letter-spacing="0.142em" textLength="74.5" lengthAdjust="spacingAndGlyphs">40-60%</text>
<text x="81.03" y="788.0" font-size="31.2" font-weight="normal" fill="#f5f7f9" stroke="#f5f7f9" stroke-width="0.45" stroke-linejoin="round" letter-spacing="0.142em" textLength="85.8" lengthAdjust="spacingAndGlyphs">(COATING</text>
<text x="81.63" y="788.0" font-size="31.2" font-weight="normal" fill="#f5f7f9" stroke="#f5f7f9" stroke-width="0.45" stroke-linejoin="round" letter-spacing="0.142em" textLength="85.8" lengthAdjust="spacingAndGlyphs">(COATING</text>
<text x="82.23" y="788.0" font-size="31.2" font-weight="normal" fill="#f5f7f9" stroke="#f5f7f9" stroke-width="0.45" stroke-linejoin="round" letter-spacing="0.142em" textLength="85.8" lengthAdjust="spacingAndGlyphs">(COATING</text>
<text x="82.83" y="788.0" font-size="31.2" font-weight="normal" fill="#f5f7f9" stroke="#f5f7f9" stroke-width="0.45" stroke-linejoin="round" letter-spacing="0.142em" textLength="85.8" lengthAdjust="spacingAndGlyphs">(COATING</text>
<text x="171.63" y="788.0" font-size="31.2" font-weight="normal" fill="#f5f7f9" stroke="#f5f7f9" stroke-width="0.45" stroke-linejoin="round" letter-spacing="0.142em" textLength="73.0" lengthAdjust="spacingAndGlyphs">FAILURE</text>
<text x="172.23" y="788.0" font-size="31.2" font-weight="normal" fill="#f5f7f9" stroke="#f5f7f9" stroke-width="0.45" stroke-linejoin="round" letter-spacing="0.142em" textLength="73.0" lengthAdjust="spacingAndGlyphs">FAILURE</text>
<text x="172.83" y="788.0" font-size="31.2" font-weight="normal" fill="#f5f7f9" stroke="#f5f7f9" stroke-width="0.45" stroke-linejoin="round" letter-spacing="0.142em" textLength="73.0" lengthAdjust="spacingAndGlyphs">FAILURE</text>
<text x="173.43" y="788.0" font-size="31.2" font-weight="normal" fill="#f5f7f9" stroke="#f5f7f9" stroke-width="0.45" stroke-linejoin="round" letter-spacing="0.142em" textLength="73.0" lengthAdjust="spacingAndGlyphs">FAILURE</text>
<text x="62.73" y="839.5" font-size="31.2" font-weight="normal" fill="#f5f7f9" stroke="#f5f7f9" stroke-width="0.45" stroke-linejoin="round" letter-spacing="0.142em" textLength="78.7" lengthAdjust="spacingAndGlyphs">BENEFIT:</text>
<text x="63.33" y="839.5" font-size="31.2" font-weight="normal" fill="#f5f7f9" stroke="#f5f7f9" stroke-width="0.45" stroke-linejoin="round" letter-spacing="0.142em" textLength="78.7" lengthAdjust="spacingAndGlyphs">BENEFIT:</text>
<text x="63.93" y="839.5" font-size="31.2" font-weight="normal" fill="#f5f7f9" stroke="#f5f7f9" stroke-width="0.45" stroke-linejoin="round" letter-spacing="0.142em" textLength="78.7" lengthAdjust="spacingAndGlyphs">BENEFIT:</text>
<text x="64.53" y="839.5" font-size="31.2" font-weight="normal" fill="#f5f7f9" stroke="#f5f7f9" stroke-width="0.45" stroke-linejoin="round" letter-spacing="0.142em" textLength="78.7" lengthAdjust="spacingAndGlyphs">BENEFIT:</text>
<text x="144.33" y="839.5" font-size="31.2" font-weight="normal" fill="#f5f7f9" stroke="#f5f7f9" stroke-width="0.45" stroke-linejoin="round" letter-spacing="0.142em" textLength="99.2" lengthAdjust="spacingAndGlyphs">REDUCTION</text>
<text x="144.93" y="839.5" font-size="31.2" font-weight="normal" fill="#f5f7f9" stroke="#f5f7f9" stroke-width="0.45" stroke-linejoin="round" letter-spacing="0.142em" textLength="99.2" lengthAdjust="spacingAndGlyphs">REDUCTION</text>
<text x="145.53" y="839.5" font-size="31.2" font-weight="normal" fill="#f5f7f9" stroke="#f5f7f9" stroke-width="0.45" stroke-linejoin="round" letter-spacing="0.142em" textLength="99.2" lengthAdjust="spacingAndGlyphs">REDUCTION</text>
<text x="146.13" y="839.5" font-size="31.2" font-weight="normal" fill="#f5f7f9" stroke="#f5f7f9" stroke-width="0.45" stroke-linejoin="round" letter-spacing="0.142em" textLength="99.2" lengthAdjust="spacingAndGlyphs">REDUCTION</text>
<text x="249.63" y="839.5" font-size="31.2" font-weight="normal" fill="#f5f7f9" stroke="#f5f7f9" stroke-width="0.45" stroke-linejoin="round" letter-spacing="0.142em" textLength="18.6" lengthAdjust="spacingAndGlyphs">IN</text>
<text x="250.23" y="839.5" font-size="31.2" font-weight="normal" fill="#f5f7f9" stroke="#f5f7f9" stroke-width="0.45" stroke-linejoin="round" letter-spacing="0.142em" textLength="18.6" lengthAdjust="spacingAndGlyphs">IN</text>
<text x="250.83" y="839.5" font-size="31.2" font-weight="normal" fill="#f5f7f9" stroke="#f5f7f9" stroke-width="0.45" stroke-linejoin="round" letter-spacing="0.142em" textLength="18.6" lengthAdjust="spacingAndGlyphs">IN</text>
<text x="251.43" y="839.5" font-size="31.2" font-weight="normal" fill="#f5f7f9" stroke="#f5f7f9" stroke-width="0.45" stroke-linejoin="round" letter-spacing="0.142em" textLength="18.6" lengthAdjust="spacingAndGlyphs">IN</text>
<text x="82.03" y="871.1" font-size="31.2" font-weight="normal" fill="#f5f7f9" stroke="#f5f7f9" stroke-width="0.45" stroke-linejoin="round" letter-spacing="0.142em" textLength="77.7" lengthAdjust="spacingAndGlyphs">COATING</text>
<text x="82.63" y="871.1" font-size="31.2" font-weight="normal" fill="#f5f7f9" stroke="#f5f7f9" stroke-width="0.45" stroke-linejoin="round" letter-spacing="0.142em" textLength="77.7" lengthAdjust="spacingAndGlyphs">COATING</text>
<text x="83.23" y="871.1" font-size="31.2" font-weight="normal" fill="#f5f7f9" stroke="#f5f7f9" stroke-width="0.45" stroke-linejoin="round" letter-spacing="0.142em" textLength="77.7" lengthAdjust="spacingAndGlyphs">COATING</text>
<text x="83.83" y="871.1" font-size="31.2" font-weight="normal" fill="#f5f7f9" stroke="#f5f7f9" stroke-width="0.45" stroke-linejoin="round" letter-spacing="0.142em" textLength="77.7" lengthAdjust="spacingAndGlyphs">COATING</text>
<text x="164.73" y="871.1" font-size="31.2" font-weight="normal" fill="#f5f7f9" stroke="#f5f7f9" stroke-width="0.45" stroke-linejoin="round" letter-spacing="0.142em" textLength="73.0" lengthAdjust="spacingAndGlyphs">FAILURE</text>
<text x="165.33" y="871.1" font-size="31.2" font-weight="normal" fill="#f5f7f9" stroke="#f5f7f9" stroke-width="0.45" stroke-linejoin="round" letter-spacing="0.142em" textLength="73.0" lengthAdjust="spacingAndGlyphs">FAILURE</text>
<text x="165.93" y="871.1" font-size="31.2" font-weight="normal" fill="#f5f7f9" stroke="#f5f7f9" stroke-width="0.45" stroke-linejoin="round" letter-spacing="0.142em" textLength="73.0" lengthAdjust="spacingAndGlyphs">FAILURE</text>
<text x="166.53" y="871.1" font-size="31.2" font-weight="normal" fill="#f5f7f9" stroke="#f5f7f9" stroke-width="0.45" stroke-linejoin="round" letter-spacing="0.142em" textLength="73.0" lengthAdjust="spacingAndGlyphs">FAILURE</text>
<text x="377.77" y="184.0" font-size="33.3" font-weight="normal" fill="#1b2e42" stroke="#1b2e42" stroke-width="0.45" stroke-linejoin="round" letter-spacing="0.126em" textLength="19.2" lengthAdjust="spacingAndGlyphs">2.</text>
<text x="378.52" y="184.0" font-size="33.3" font-weight="normal" fill="#1b2e42" stroke="#1b2e42" stroke-width="0.45" stroke-linejoin="round" letter-spacing="0.126em" textLength="19.2" lengthAdjust="spacingAndGlyphs">2.</text>
<text x="379.27" y="184.0" font-size="33.3" font-weight="normal" fill="#1b2e42" stroke="#1b2e42" stroke-width="0.45" stroke-linejoin="round" letter-spacing="0.126em" textLength="19.2" lengthAdjust="spacingAndGlyphs">2.</text>
<text x="403.37" y="184.0" font-size="33.3" font-weight="normal" fill="#1b2e42" stroke="#1b2e42" stroke-width="0.45" stroke-linejoin="round" letter-spacing="0.126em" textLength="64.6" lengthAdjust="spacingAndGlyphs">ROTOR</text>
<text x="404.12" y="184.0" font-size="33.3" font-weight="normal" fill="#1b2e42" stroke="#1b2e42" stroke-width="0.45" stroke-linejoin="round" letter-spacing="0.126em" textLength="64.6" lengthAdjust="spacingAndGlyphs">ROTOR</text>
<text x="404.87" y="184.0" font-size="33.3" font-weight="normal" fill="#1b2e42" stroke="#1b2e42" stroke-width="0.45" stroke-linejoin="round" letter-spacing="0.126em" textLength="64.6" lengthAdjust="spacingAndGlyphs">ROTOR</text>
<text x="473.77" y="184.0" font-size="33.3" font-weight="normal" fill="#1b2e42" stroke="#1b2e42" stroke-width="0.45" stroke-linejoin="round" letter-spacing="0.126em" textLength="110.5" lengthAdjust="spacingAndGlyphs">ENCLOSORE</text>
<text x="474.52" y="184.0" font-size="33.3" font-weight="normal" fill="#1b2e42" stroke="#1b2e42" stroke-width="0.45" stroke-linejoin="round" letter-spacing="0.126em" textLength="110.5" lengthAdjust="spacingAndGlyphs">ENCLOSORE</text>
<text x="475.27" y="184.0" font-size="33.3" font-weight="normal" fill="#1b2e42" stroke="#1b2e42" stroke-width="0.45" stroke-linejoin="round" letter-spacing="0.126em" textLength="110.5" lengthAdjust="spacingAndGlyphs">ENCLOSORE</text>
<text x="591.47" y="184.0" font-size="33.3" font-weight="normal" fill="#1b2e42" stroke="#1b2e42" stroke-width="0.45" stroke-linejoin="round" letter-spacing="0.126em" textLength="13.6" lengthAdjust="spacingAndGlyphs">&amp;</text>
<text x="592.22" y="184.0" font-size="33.3" font-weight="normal" fill="#1b2e42" stroke="#1b2e42" stroke-width="0.45" stroke-linejoin="round" letter-spacing="0.126em" textLength="13.6" lengthAdjust="spacingAndGlyphs">&amp;</text>
<text x="592.97" y="184.0" font-size="33.3" font-weight="normal" fill="#1b2e42" stroke="#1b2e42" stroke-width="0.45" stroke-linejoin="round" letter-spacing="0.126em" textLength="13.6" lengthAdjust="spacingAndGlyphs">&amp;</text>
<text x="609.77" y="184.0" font-size="33.3" font-weight="normal" fill="#1b2e42" stroke="#1b2e42" stroke-width="0.45" stroke-linejoin="round" letter-spacing="0.126em" textLength="81.8" lengthAdjust="spacingAndGlyphs">SEALING</text>
<text x="610.52" y="184.0" font-size="33.3" font-weight="normal" fill="#1b2e42" stroke="#1b2e42" stroke-width="0.45" stroke-linejoin="round" letter-spacing="0.126em" textLength="81.8" lengthAdjust="spacingAndGlyphs">SEALING</text>
<text x="611.27" y="184.0" font-size="33.3" font-weight="normal" fill="#1b2e42" stroke="#1b2e42" stroke-width="0.45" stroke-linejoin="round" letter-spacing="0.126em" textLength="81.8" lengthAdjust="spacingAndGlyphs">SEALING</text>
<text x="401.67" y="222.7" font-size="33.3" font-weight="normal" fill="#1b2e42" stroke="#1b2e42" stroke-width="0.45" stroke-linejoin="round" letter-spacing="0.123em" textLength="125.4" lengthAdjust="spacingAndGlyphs">(Motor-Level</text>
<text x="402.37" y="222.7" font-size="33.3" font-weight="normal" fill="#1b2e42" stroke="#1b2e42" stroke-width="0.45" stroke-linejoin="round" letter-spacing="0.123em" textLength="125.4" lengthAdjust="spacingAndGlyphs">(Motor-Level</text>
<text x="403.07" y="222.7" font-size="33.3" font-weight="normal" fill="#1b2e42" stroke="#1b2e42" stroke-width="0.45" stroke-linejoin="round" letter-spacing="0.123em" textLength="125.4" lengthAdjust="spacingAndGlyphs">(Motor-Level</text>
<text x="534.17" y="222.7" font-size="33.3" font-weight="normal" fill="#1b2e42" stroke="#1b2e42" stroke-width="0.45" stroke-linejoin="round" letter-spacing="0.123em" textLength="111.8" lengthAdjust="spacingAndGlyphs">Protection)</text>
<text x="534.87" y="222.7" font-size="33.3" font-weight="normal" fill="#1b2e42" stroke="#1b2e42" stroke-width="0.45" stroke-linejoin="round" letter-spacing="0.123em" textLength="111.8" lengthAdjust="spacingAndGlyphs">Protection)</text>
<text x="535.57" y="222.7" font-size="33.3" font-weight="normal" fill="#1b2e42" stroke="#1b2e42" stroke-width="0.45" stroke-linejoin="round" letter-spacing="0.123em" textLength="111.8" lengthAdjust="spacingAndGlyphs">Protection)</text>
<text x="360.47" y="325.6" font-size="18.8" font-weight="normal" fill="#1f2e3d" letter-spacing="0.125em" textLength="38.0" lengthAdjust="spacingAndGlyphs">WATER</text>
<text x="360.89" y="325.6" font-size="18.8" font-weight="normal" fill="#1f2e3d" letter-spacing="0.125em" textLength="38.0" lengthAdjust="spacingAndGlyphs">WATER</text>
<text x="361.30" y="325.6" font-size="18.8" font-weight="normal" fill="#1f2e3d" letter-spacing="0.125em" textLength="38.0" lengthAdjust="spacingAndGlyphs">WATER</text>
<text x="360.47" y="346.0" font-size="18.8" font-weight="normal" fill="#1f2e3d" letter-spacing="0.125em" textLength="35.5" lengthAdjust="spacingAndGlyphs">VAPOR</text>
<text x="360.89" y="346.0" font-size="18.8" font-weight="normal" fill="#1f2e3d" letter-spacing="0.125em" textLength="35.5" lengthAdjust="spacingAndGlyphs">VAPOR</text>
<text x="361.30" y="346.0" font-size="18.8" font-weight="normal" fill="#1f2e3d" letter-spacing="0.125em" textLength="35.5" lengthAdjust="spacingAndGlyphs">VAPOR</text>
<text x="597.27" y="325.6" font-size="19" font-weight="normal" fill="#1f2e3d" letter-spacing="0.125em" textLength="49.4" lengthAdjust="spacingAndGlyphs">SILCONE</text>
<text x="597.69" y="325.6" font-size="19" font-weight="normal" fill="#1f2e3d" letter-spacing="0.125em" textLength="49.4" lengthAdjust="spacingAndGlyphs">SILCONE</text>
<text x="598.10" y="325.6" font-size="19" font-weight="normal" fill="#1f2e3d" letter-spacing="0.125em" textLength="49.4" lengthAdjust="spacingAndGlyphs">SILCONE</text>
<text x="580.95" y="345.6" font-size="19.5" font-weight="normal" fill="#1f2e3d" letter-spacing="0.125em" textLength="38.3" lengthAdjust="spacingAndGlyphs">GACKE</text>
<text x="581.38" y="345.6" font-size="19.5" font-weight="normal" fill="#1f2e3d" letter-spacing="0.125em" textLength="38.3" lengthAdjust="spacingAndGlyphs">GACKE</text>
<text x="581.81" y="345.6" font-size="19.5" font-weight="normal" fill="#1f2e3d" letter-spacing="0.125em" textLength="38.3" lengthAdjust="spacingAndGlyphs">GACKE</text>
<text x="622.95" y="345.6" font-size="19.5" font-weight="normal" fill="#1f2e3d" letter-spacing="0.125em" textLength="44.0" lengthAdjust="spacingAndGlyphs">GASKET</text>
<text x="623.38" y="345.6" font-size="19.5" font-weight="normal" fill="#1f2e3d" letter-spacing="0.125em" textLength="44.0" lengthAdjust="spacingAndGlyphs">GASKET</text>
<text x="623.81" y="345.6" font-size="19.5" font-weight="normal" fill="#1f2e3d" letter-spacing="0.125em" textLength="44.0" lengthAdjust="spacingAndGlyphs">GASKET</text>
<text x="601.27" y="501.5" font-size="18.9" font-weight="normal" fill="#1f2e3d" letter-spacing="0.125em" textLength="62.2" lengthAdjust="spacingAndGlyphs">DESISCANT</text>
<text x="601.69" y="501.5" font-size="18.9" font-weight="normal" fill="#1f2e3d" letter-spacing="0.125em" textLength="62.2" lengthAdjust="spacingAndGlyphs">DESISCANT</text>
<text x="602.10" y="501.5" font-size="18.9" font-weight="normal" fill="#1f2e3d" letter-spacing="0.125em" textLength="62.2" lengthAdjust="spacingAndGlyphs">DESISCANT</text>
<text x="511.47" y="769.1" font-size="19" font-weight="normal" fill="#1f2e3d" letter-spacing="0.125em" textLength="41.9" lengthAdjust="spacingAndGlyphs">BLOCKS</text>
<text x="511.89" y="769.1" font-size="19" font-weight="normal" fill="#1f2e3d" letter-spacing="0.125em" textLength="41.9" lengthAdjust="spacingAndGlyphs">BLOCKS</text>
<text x="512.30" y="769.1" font-size="19" font-weight="normal" fill="#1f2e3d" letter-spacing="0.125em" textLength="41.9" lengthAdjust="spacingAndGlyphs">BLOCKS</text>
<text x="556.97" y="769.1" font-size="19" font-weight="normal" fill="#1f2e3d" letter-spacing="0.125em" textLength="30.4" lengthAdjust="spacingAndGlyphs">DUST,</text>
<text x="557.39" y="769.1" font-size="19" font-weight="normal" fill="#1f2e3d" letter-spacing="0.125em" textLength="30.4" lengthAdjust="spacingAndGlyphs">DUST,</text>
<text x="557.80" y="769.1" font-size="19" font-weight="normal" fill="#1f2e3d" letter-spacing="0.125em" textLength="30.4" lengthAdjust="spacingAndGlyphs">DUST,</text>
<text x="591.47" y="769.1" font-size="19" font-weight="normal" fill="#1f2e3d" letter-spacing="0.125em" textLength="19.9" lengthAdjust="spacingAndGlyphs">OIL,</text>
<text x="591.89" y="769.1" font-size="19" font-weight="normal" fill="#1f2e3d" letter-spacing="0.125em" textLength="19.9" lengthAdjust="spacingAndGlyphs">OIL,</text>
<text x="592.30" y="769.1" font-size="19" font-weight="normal" fill="#1f2e3d" letter-spacing="0.125em" textLength="19.9" lengthAdjust="spacingAndGlyphs">OIL,</text>
<text x="615.47" y="769.1" font-size="19" font-weight="normal" fill="#1f2e3d" letter-spacing="0.125em" textLength="52.9" lengthAdjust="spacingAndGlyphs">MOISTURE</text>
<text x="615.89" y="769.1" font-size="19" font-weight="normal" fill="#1f2e3d" letter-spacing="0.125em" textLength="52.9" lengthAdjust="spacingAndGlyphs">MOISTURE</text>
<text x="616.30" y="769.1" font-size="19" font-weight="normal" fill="#1f2e3d" letter-spacing="0.125em" textLength="52.9" lengthAdjust="spacingAndGlyphs">MOISTURE</text>
<text x="536.87" y="788.7" font-size="19" font-weight="normal" fill="#1f2e3d" letter-spacing="0.125em" textLength="104.6" lengthAdjust="spacingAndGlyphs">MAINTENANCE–FREE</text>
<text x="537.29" y="788.7" font-size="19" font-weight="normal" fill="#1f2e3d" letter-spacing="0.125em" textLength="104.6" lengthAdjust="spacingAndGlyphs">MAINTENANCE–FREE</text>
<text x="537.70" y="788.7" font-size="19" font-weight="normal" fill="#1f2e3d" letter-spacing="0.125em" textLength="104.6" lengthAdjust="spacingAndGlyphs">MAINTENANCE–FREE</text>
<text x="387.54" y="804.0" font-size="20" font-weight="normal" fill="#1f2e3d" letter-spacing="0.125em" textLength="55.7" lengthAdjust="spacingAndGlyphs">LABYRVTH</text>
<text x="387.98" y="804.0" font-size="20" font-weight="normal" fill="#1f2e3d" letter-spacing="0.125em" textLength="55.7" lengthAdjust="spacingAndGlyphs">LABYRVTH</text>
<text x="388.42" y="804.0" font-size="20" font-weight="normal" fill="#1f2e3d" letter-spacing="0.125em" textLength="55.7" lengthAdjust="spacingAndGlyphs">LABYRVTH</text>
<text x="446.94" y="804.0" font-size="20" font-weight="normal" fill="#1f2e3d" letter-spacing="0.125em" textLength="27.3" lengthAdjust="spacingAndGlyphs">SEAL</text>
<text x="447.38" y="804.0" font-size="20" font-weight="normal" fill="#1f2e3d" letter-spacing="0.125em" textLength="27.3" lengthAdjust="spacingAndGlyphs">SEAL</text>
<text x="447.82" y="804.0" font-size="20" font-weight="normal" fill="#1f2e3d" letter-spacing="0.125em" textLength="27.3" lengthAdjust="spacingAndGlyphs">SEAL</text>
<text x="461.95" y="949.8" font-size="19.6" font-weight="normal" fill="#1f2e3d" letter-spacing="0.125em" textLength="136.0" lengthAdjust="spacingAndGlyphs">CORROSION–RESISTANT</text>
<text x="462.38" y="949.8" font-size="19.6" font-weight="normal" fill="#1f2e3d" letter-spacing="0.125em" textLength="136.0" lengthAdjust="spacingAndGlyphs">CORROSION–RESISTANT</text>
<text x="462.81" y="949.8" font-size="19.6" font-weight="normal" fill="#1f2e3d" letter-spacing="0.125em" textLength="136.0" lengthAdjust="spacingAndGlyphs">CORROSION–RESISTANT</text>
<text x="602.55" y="949.8" font-size="19.6" font-weight="normal" fill="#1f2e3d" letter-spacing="0.125em" textLength="37.6" lengthAdjust="spacingAndGlyphs">ROTOR</text>
<text x="602.98" y="949.8" font-size="19.6" font-weight="normal" fill="#1f2e3d" letter-spacing="0.125em" textLength="37.6" lengthAdjust="spacingAndGlyphs">ROTOR</text>
<text x="603.41" y="949.8" font-size="19.6" font-weight="normal" fill="#1f2e3d" letter-spacing="0.125em" textLength="37.6" lengthAdjust="spacingAndGlyphs">ROTOR</text>
<text x="461.95" y="969.6" font-size="19.8" font-weight="normal" fill="#1f2e3d" letter-spacing="0.125em" textLength="59.1" lengthAdjust="spacingAndGlyphs">STAINLESS</text>
<text x="462.38" y="969.6" font-size="19.8" font-weight="normal" fill="#1f2e3d" letter-spacing="0.125em" textLength="59.1" lengthAdjust="spacingAndGlyphs">STAINLESS</text>
<text x="462.82" y="969.6" font-size="19.8" font-weight="normal" fill="#1f2e3d" letter-spacing="0.125em" textLength="59.1" lengthAdjust="spacingAndGlyphs">STAINLESS</text>
<text x="525.35" y="969.6" font-size="19.8" font-weight="normal" fill="#1f2e3d" letter-spacing="0.125em" textLength="32.3" lengthAdjust="spacingAndGlyphs">STEEL</text>
<text x="525.78" y="969.6" font-size="19.8" font-weight="normal" fill="#1f2e3d" letter-spacing="0.125em" textLength="32.3" lengthAdjust="spacingAndGlyphs">STEEL</text>
<text x="526.22" y="969.6" font-size="19.8" font-weight="normal" fill="#1f2e3d" letter-spacing="0.125em" textLength="32.3" lengthAdjust="spacingAndGlyphs">STEEL</text>
<circle cx="412.8" cy="951.2" r="36.6" fill="#9c9ea1"/>
<path d="M456,339.9 L425.5,345.4 L424.7,352.8 C416,360 407.5,366 407.5,376 L407.5,478 C407.5,488 416,494 424.7,500.8 L424.7,507 L456,513.3 L532,518.4 A64.7,63.5 0 0 0 596.7,455 L596.7,397.5 A64.7,63.5 0 0 0 532,334 Z" fill="#b9bcc0" stroke="#27313c" stroke-width="1.3" stroke-linejoin="round"/>
<rect x="441.3" y="330" width="91.3" height="5.2" fill="#51616f" stroke="#27313c" stroke-width="0.8"/>
<rect x="441.3" y="517.2" width="91.3" height="5.4" fill="#51616f" stroke="#27313c" stroke-width="0.8"/>
<path d="M456.7,335 L522,335 L522,360.5 L456.7,360.5 Z" fill="#b9bcc0" stroke="#27313c" stroke-width="0.9"/>
<path d="M456.7,492.4 L522,492.4 L522,517.3 L456.7,517.3 Z" fill="#b9bcc0" stroke="#27313c" stroke-width="0.9"/>
<rect x="468.6" y="333" width="40.4" height="23" fill="#a4a7ab" stroke="#27313c" stroke-width="1.3"/>
<rect x="468.6" y="496.4" width="40.4" height="23" fill="#a4a7ab" stroke="#27313c" stroke-width="1.3"/>
<line x1="456.7" y1="339" x2="456.7" y2="514" stroke="#27313c" stroke-width="1"/>
<path d="M417.3,377.6 L436.4,377.6 L436.4,476.6 L417.3,476.6 Z" fill="#bcbfc3" stroke="#27313c" stroke-width="1"/>
<path d="M530,343.5 A55,54 0 0 1 585,397.5 L585,455 A55,54 0 0 1 530,509.5" fill="none" stroke="#27313c" stroke-width="6"/>
<path d="M530,343.5 A55,54 0 0 1 585,397.5 L585,455 A55,54 0 0 1 530,509.5" fill="none" stroke="#3f6792" stroke-width="3.6"/>
<rect x="521.5" y="337.2" width="8.5" height="24.7" fill="#3f6792" stroke="#27313c" stroke-width="1"/>
<rect x="521.5" y="491" width="8.5" height="24.7" fill="#3f6792" stroke="#27313c" stroke-width="1"/>
<path d="M457.4,360.5 L531,360.5 A39,50 0 0 1 569.7,410.5 L569.7,442.5 A39,50 0 0 1 531,492.4 L457.4,492.4 Z" fill="#3f6792" stroke="#27313c" stroke-width="1.2"/>
<path d="M457.4,367.3 L530,367.3 A33,44 0 0 1 563,411.3 L563,442 A33,44 0 0 1 530,486.3 L457.4,486.3 Z" fill="#e2372f" stroke="#5a1f22" stroke-width="0.8"/>
<path d="M457.4,378.5 L526,378.5 A24,28 0 0 1 550,406.5 L550,447 A24,28 0 0 1 526,475.1 L457.4,475.1 C446,474 439.4,466 439.4,456 L439.4,398 C439.4,387 446,380 457.4,378.5 Z" fill="#dde0e3" stroke="#27313c" stroke-width="1.1"/>
<path d="M457.4,381.5 C449,383 442.8,389 442.8,398 L442.8,456 C442.8,465 449,471 457.4,472.3" fill="none" stroke="#27313c" stroke-width="0.9"/>
<rect x="443.5" y="397.3" width="106" height="49.8" fill="#f6f7f8"/>
<line x1="481" y1="397.6" x2="546" y2="397.6" stroke="#b5babf" stroke-width="0.8"/>
<line x1="483" y1="447.5" x2="550" y2="447.5" stroke="#9aa0a6" stroke-width="0.7"/>
<path d="M455.6,390 L480.8,390 L480,399.5 L478.5,402 L481,440 L474,442.6 L462,441.2 L455,442 L457,402 L456.3,399.5 Z" fill="#fdfdfd" stroke="#3a4452" stroke-width="1" stroke-linejoin="round"/>
<path d="M456,392.3 L480.5,392.3 M456.5,400 L480,400 M457,403.3 L479,403.3" stroke="#3a4452" stroke-width="0.8" fill="none"/>
<path d="M444,426 L454.6,426" stroke="#27313c" stroke-width="0.8" fill="none"/><path d="M447,426 L451.2,423.6 L450.4,426 L451.2,428.4 Z" fill="#27313c"/>
<text x="483.42" y="419.6" font-size="17" font-weight="normal" fill="#2c3642" letter-spacing="0.125em" textLength="57.1" lengthAdjust="spacingAndGlyphs">DESISCANT</text>
<text x="483.80" y="419.6" font-size="17" font-weight="normal" fill="#2c3642" letter-spacing="0.125em" textLength="57.1" lengthAdjust="spacingAndGlyphs">DESISCANT</text>
<text x="484.17" y="419.6" font-size="17" font-weight="normal" fill="#2c3642" letter-spacing="0.125em" textLength="57.1" lengthAdjust="spacingAndGlyphs">DESISCANT</text>
<text x="485.82" y="437.7" font-size="17" font-weight="normal" fill="#2c3642" letter-spacing="0.121em" textLength="28.0" lengthAdjust="spacingAndGlyphs">(Silica</text>
<text x="486.17" y="437.7" font-size="17" font-weight="normal" fill="#2c3642" letter-spacing="0.121em" textLength="28.0" lengthAdjust="spacingAndGlyphs">(Silica</text>
<text x="486.52" y="437.7" font-size="17" font-weight="normal" fill="#2c3642" letter-spacing="0.121em" textLength="28.0" lengthAdjust="spacingAndGlyphs">(Silica</text>
<text x="517.02" y="437.7" font-size="17" font-weight="normal" fill="#2c3642" letter-spacing="0.121em" textLength="19.4" lengthAdjust="spacingAndGlyphs">Gel)</text>
<text x="517.37" y="437.7" font-size="17" font-weight="normal" fill="#2c3642" letter-spacing="0.121em" textLength="19.4" lengthAdjust="spacingAndGlyphs">Gel)</text>
<text x="517.72" y="437.7" font-size="17" font-weight="normal" fill="#2c3642" letter-spacing="0.121em" textLength="19.4" lengthAdjust="spacingAndGlyphs">Gel)</text>
<path d="M428.6,350.5 L436.4,353 L436.4,377.6 L417.3,377.6 L417.5,375.5 L428.6,368.8 Z" fill="#3f7aa2" stroke="#27313c" stroke-width="1"/>
<path d="M428.6,368.8 L436.4,377.6 L439,381" fill="none" stroke="#27313c" stroke-width="0.9"/>
<path d="M416.5,476.6 L436.4,476.6 L436.4,501.6 L429.4,503.9 L428.6,486 C426,482 421,480.5 417,479.5 Z" fill="#3f7aa2" stroke="#27313c" stroke-width="1"/>
<rect x="397.9" y="402" width="9.6" height="9" fill="#36506e"/>
<rect x="397.9" y="412" width="9.6" height="9" fill="#a9adb1"/>
<rect x="397.9" y="422.3" width="9.6" height="16.19999999999999" fill="#e2372f"/>
<rect x="397.9" y="439.3" width="9.6" height="6.699999999999989" fill="#a9adb1"/>
<rect x="397.9" y="447" width="9.6" height="9" fill="#36506e"/>
<path d="M399,428.5 L404,431.3 L399,434 Z" fill="#3a1f22"/>
<circle cx="423.1" cy="366.9" r="3.4" fill="#d5d8db" stroke="#27313c" stroke-width="1"/>
<circle cx="422.3" cy="487.9" r="3.4" fill="#d5d8db" stroke="#27313c" stroke-width="1"/>
<circle cx="570.4" cy="383.2" r="3.4" fill="#d5d8db" stroke="#27313c" stroke-width="1"/>
<circle cx="569.7" cy="472.9" r="3.4" fill="#d5d8db" stroke="#27313c" stroke-width="1"/>
<circle cx="543" cy="339.1" r="2.1" fill="#2a3440"/>
<circle cx="553.2" cy="344.7" r="2.1" fill="#2a3440"/>
<circle cx="553.3" cy="508.1" r="2.1" fill="#2a3440"/>
<path d="M566,393 C570,402 582,398 583,388 M566,463 C570,452 582,456 583,466" fill="none" stroke="#27313c" stroke-width="0.8"/>
<path d="M459,347 c4,-5 8,-1 4,4 M459,506 c4,5 8,1 4,-4 M516,348 c-4,-5 -8,-1 -4,4 M516,505 c-4,5 -8,1 -4,-4" fill="none" stroke="#27313c" stroke-width="0.9"/>
<path d="M400.6,337.5 L418.1,337.5 L424.4,347.5" stroke="#27313c" stroke-width="1" fill="none"/>
<path d="M384.6,354 L384.6,431.3 L398,431.3" stroke="#27313c" stroke-width="1" fill="none"/>
<path d="M545,338.5 L567.5,320.4 L592.8,320.4" stroke="#27313c" stroke-width="1" fill="none"/>
<path d="M553.3,508.4 L598.4,508.4" stroke="#27313c" stroke-width="1" fill="none"/>
<path d="M418,712.6 L418,782.2" stroke="#27313c" stroke-width="1" fill="none"/>
<path d="M582.6,684.5 L582.6,749.5" stroke="#27313c" stroke-width="1" fill="none"/>
<defs><linearGradient id="cyl" x1="0" x2="0" y1="0" y2="1"><stop offset="0" stop-color="#8d9298"/><stop offset="0.35" stop-color="#f2f3f4"/><stop offset="0.7" stop-color="#b4b8bd"/><stop offset="1" stop-color="#7d838a"/></linearGradient><clipPath id="bodyclip"><rect x="-89" y="-62.4" width="178" height="124.8"/></clipPath></defs>
<g transform="translate(523.8,657.7) rotate(-22.9)">
<rect x="89" y="-19" width="17" height="38" fill="#3f6a9c" stroke="#1f3048" stroke-width="1"/>
<rect x="93" y="-26" width="12" height="14" fill="#3f6a9c" stroke="#1f3048" stroke-width="0.9"/>
<rect x="93" y="10" width="13" height="14" fill="#3f6a9c" stroke="#1f3048" stroke-width="0.9"/>
<rect x="96" y="-8" width="10" height="14" fill="#cdd0d4" stroke="#1f3048" stroke-width="0.8"/>
<path d="M-106,-62.4 L-89,-62.4 L-89,62.4 L-106,62.4 C-110,62.4 -113,59 -113,55 L-113,38 L-108,38 L-108,24 L-113,24 L-113,-24 L-108,-24 L-108,-38 L-113,-38 L-113,-55 C-113,-59 -110,-62.4 -106,-62.4 Z" fill="#3f6a9c" stroke="#1f3048" stroke-width="1.1"/>
<path d="M-113,-24 L-104,-24 L-104,-36 L-99,-36 L-99,36 L-104,36 L-104,24 L-113,24 Z" fill="#cdd0d4" stroke="#1f3048" stroke-width="0.9"/>
<rect x="-121" y="-15" width="10" height="30" rx="2" fill="#cdd0d4" stroke="#1f3048" stroke-width="0.9"/>
<rect x="-89" y="-62.4" width="178" height="124.8" fill="#cdd0d4" stroke="#1f3048" stroke-width="1.1"/>
<rect x="-89" y="-62.4" width="100" height="3.6" fill="#3f6a9c"/>
<rect x="-89" y="58.8" width="124" height="3.6" fill="#3f6a9c"/>
<g clip-path="url(#bodyclip)">
<rect x="-89" y="-58.8" width="112" height="117.6" fill="#dadde1"/>
<path d="M-84,-19.5 L-31,-19.5 A19.5,19.5 0 0 1 -31,19.5 L-84,19.5" fill="none" stroke="#1f3048" stroke-width="1.7"/>
<path d="M-84,-27.5 L-31,-27.5 A27.5,27.5 0 0 1 -31,27.5 L-84,27.5" fill="none" stroke="#1f3048" stroke-width="1.7"/>
<path d="M-84,-35.5 L-31,-35.5 A35.5,35.5 0 0 1 -31,35.5 L-84,35.5" fill="none" stroke="#1f3048" stroke-width="1.7"/>
<path d="M-84,-43.5 L-31,-43.5 A43.5,43.5 0 0 1 -31,43.5 L-84,43.5" fill="none" stroke="#1f3048" stroke-width="1.7"/>
<path d="M-84,-51.5 L-31,-51.5 A51.5,51.5 0 0 1 -31,51.5 L-84,51.5" fill="none" stroke="#1f3048" stroke-width="1.7"/>
<path d="M-84,-57 L8,-57 M-84,57 L20,57" fill="none" stroke="#1f3048" stroke-width="1.2"/>
<path d="M-88.0,-58 C-80.0,-30 -80.0,30 -88.0,58" fill="none" stroke="#1f3048" stroke-width="0.7"/>
<path d="M-85.8,-58 C-77.8,-30 -77.8,30 -85.8,58" fill="none" stroke="#1f3048" stroke-width="0.7"/>
<path d="M-83.6,-58 C-75.6,-30 -75.6,30 -83.6,58" fill="none" stroke="#1f3048" stroke-width="0.7"/>
<path d="M-81.4,-58 C-73.4,-30 -73.4,30 -81.4,58" fill="none" stroke="#1f3048" stroke-width="0.7"/>
<path d="M-79.2,-58 C-71.2,-30 -71.2,30 -79.2,58" fill="none" stroke="#1f3048" stroke-width="0.7"/>
<path d="M-77.0,-58 C-69.0,-30 -69.0,30 -77.0,58" fill="none" stroke="#1f3048" stroke-width="0.7"/>
<path d="M-74.8,-58 C-66.8,-30 -66.8,30 -74.8,58" fill="none" stroke="#1f3048" stroke-width="0.7"/>
</g>
<path d="M22,-52 L34,-58 L34,-40 L26,-30 Z" fill="#3f6a9c"/>
<path d="M22,52 L34,58 L60,58 L40,44 L26,30 Z" fill="#3f6a9c"/>
<ellipse cx="52.4" cy="-1" rx="30.5" ry="58.5" fill="#cdd0d4" stroke="#1f3048" stroke-width="1.2"/>
<ellipse cx="52.4" cy="-1" rx="28" ry="56" fill="#3f6a9c" stroke="#1f3048" stroke-width="1"/>
<ellipse cx="49" cy="-1" rx="23.5" ry="52.5" fill="#cdd0d4" stroke="#1f3048" stroke-width="0.9"/>
<ellipse cx="47.3" cy="-1" rx="21" ry="50" fill="#3f6a9c" stroke="#1f3048" stroke-width="0.9"/>
<ellipse cx="40.8" cy="-1.5" rx="17.2" ry="45.8" fill="#cdd0d4" stroke="#1f3048" stroke-width="0.9"/>
<ellipse cx="40" cy="-1.5" rx="15" ry="43.5" fill="#fefefe" stroke="#1f3048" stroke-width="1"/>
<circle cx="80" cy="-50" r="1.3" fill="#1f3048"/>
<circle cx="82" cy="48" r="1.3" fill="#1f3048"/>
<circle cx="60" cy="-2" r="1.3" fill="#1f3048"/>
<circle cx="69" cy="-8" r="1.3" fill="#1f3048"/>
<path d="M-62,-19 L-24,-19 A6,19 0 0 1 -24,19 L-62,19 A6,19 0 0 1 -62,-19 Z" fill="#cdd0d4" stroke="#1f3048" stroke-width="1.2"/>
<path d="M-59,-15 L-27,-15 A5,15 0 0 1 -27,15 L-59,15 A5,15 0 0 1 -59,-15 Z" fill="url(#cyl)" stroke="#1f3048" stroke-width="0.9"/>
<path d="M-20,-2 L26,-2" stroke="#eef0f2" stroke-width="2.6" fill="none"/>
<path d="M-125,-11 L-74,-11 A4,11 0 0 1 -74,11 L-125,11 A4,11 0 0 1 -125,-11 Z" fill="url(#cyl)" stroke="#1f3048" stroke-width="1"/>
<path d="M-141,-5 L-112,-5 L-112,5 L-141,5 A2.2,5 0 0 1 -141,-5 Z" fill="url(#cyl)" stroke="#1f3048" stroke-width="1"/>
<ellipse cx="-141" cy="0" rx="1.6" ry="3.2" fill="#d9dcdf" stroke="#1f3048" stroke-width="0.7"/>
<ellipse cx="-112" cy="0" rx="3" ry="9" fill="none" stroke="#1f3048" stroke-width="0.9"/>
</g>
<path d="M617,508.7 L590.6,597.6" stroke="#27313c" stroke-width="1" fill="none"/>
<circle cx="590.3" cy="598.3" r="2" fill="#1f2f45"/>
<text x="707.68" y="184.0" font-size="32.9" font-weight="normal" fill="#1b2e42" stroke="#1b2e42" stroke-width="0.45" stroke-linejoin="round" letter-spacing="0.127em" textLength="18.4" lengthAdjust="spacingAndGlyphs">3.</text>
<text x="708.43" y="184.0" font-size="32.9" font-weight="normal" fill="#1b2e42" stroke="#1b2e42" stroke-width="0.45" stroke-linejoin="round" letter-spacing="0.127em" textLength="18.4" lengthAdjust="spacingAndGlyphs">3.</text>
<text x="709.18" y="184.0" font-size="32.9" font-weight="normal" fill="#1b2e42" stroke="#1b2e42" stroke-width="0.45" stroke-linejoin="round" letter-spacing="0.127em" textLength="18.4" lengthAdjust="spacingAndGlyphs">3.</text>
<text x="732.88" y="184.0" font-size="32.9" font-weight="normal" fill="#1b2e42" stroke="#1b2e42" stroke-width="0.45" stroke-linejoin="round" letter-spacing="0.127em" textLength="77.1" lengthAdjust="spacingAndGlyphs">MAGNET</text>
<text x="733.63" y="184.0" font-size="32.9" font-weight="normal" fill="#1b2e42" stroke="#1b2e42" stroke-width="0.45" stroke-linejoin="round" letter-spacing="0.127em" textLength="77.1" lengthAdjust="spacingAndGlyphs">MAGNET</text>
<text x="734.38" y="184.0" font-size="32.9" font-weight="normal" fill="#1b2e42" stroke="#1b2e42" stroke-width="0.45" stroke-linejoin="round" letter-spacing="0.127em" textLength="77.1" lengthAdjust="spacingAndGlyphs">MAGNET</text>
<text x="818.48" y="184.0" font-size="32.9" font-weight="normal" fill="#1b2e42" stroke="#1b2e42" stroke-width="0.45" stroke-linejoin="round" letter-spacing="0.127em" textLength="58.7" lengthAdjust="spacingAndGlyphs">SHAPE</text>
<text x="819.23" y="184.0" font-size="32.9" font-weight="normal" fill="#1b2e42" stroke="#1b2e42" stroke-width="0.45" stroke-linejoin="round" letter-spacing="0.127em" textLength="58.7" lengthAdjust="spacingAndGlyphs">SHAPE</text>
<text x="819.98" y="184.0" font-size="32.9" font-weight="normal" fill="#1b2e42" stroke="#1b2e42" stroke-width="0.45" stroke-linejoin="round" letter-spacing="0.127em" textLength="58.7" lengthAdjust="spacingAndGlyphs">SHAPE</text>
<text x="885.68" y="184.0" font-size="32.9" font-weight="normal" fill="#1b2e42" stroke="#1b2e42" stroke-width="0.45" stroke-linejoin="round" letter-spacing="0.127em" textLength="15.0" lengthAdjust="spacingAndGlyphs">&amp;</text>
<text x="886.43" y="184.0" font-size="32.9" font-weight="normal" fill="#1b2e42" stroke="#1b2e42" stroke-width="0.45" stroke-linejoin="round" letter-spacing="0.127em" textLength="15.0" lengthAdjust="spacingAndGlyphs">&amp;</text>
<text x="887.18" y="184.0" font-size="32.9" font-weight="normal" fill="#1b2e42" stroke="#1b2e42" stroke-width="0.45" stroke-linejoin="round" letter-spacing="0.127em" textLength="15.0" lengthAdjust="spacingAndGlyphs">&amp;</text>
<text x="908.48" y="184.0" font-size="32.9" font-weight="normal" fill="#1b2e42" stroke="#1b2e42" stroke-width="0.45" stroke-linejoin="round" letter-spacing="0.127em" textLength="99.7" lengthAdjust="spacingAndGlyphs">MOUNTING</text>
<text x="909.23" y="184.0" font-size="32.9" font-weight="normal" fill="#1b2e42" stroke="#1b2e42" stroke-width="0.45" stroke-linejoin="round" letter-spacing="0.127em" textLength="99.7" lengthAdjust="spacingAndGlyphs">MOUNTING</text>
<text x="909.98" y="184.0" font-size="32.9" font-weight="normal" fill="#1b2e42" stroke="#1b2e42" stroke-width="0.45" stroke-linejoin="round" letter-spacing="0.127em" textLength="99.7" lengthAdjust="spacingAndGlyphs">MOUNTING</text>
<text x="710.00" y="223.8" font-size="32.3" font-weight="normal" fill="#1b2e42" stroke="#1b2e42" stroke-width="0.45" stroke-linejoin="round" letter-spacing="0.109em" textLength="105.2" lengthAdjust="spacingAndGlyphs">(Miniliming</text>
<text x="710.50" y="223.8" font-size="32.3" font-weight="normal" fill="#1b2e42" stroke="#1b2e42" stroke-width="0.45" stroke-linejoin="round" letter-spacing="0.109em" textLength="105.2" lengthAdjust="spacingAndGlyphs">(Miniliming</text>
<text x="711.00" y="223.8" font-size="32.3" font-weight="normal" fill="#1b2e42" stroke="#1b2e42" stroke-width="0.45" stroke-linejoin="round" letter-spacing="0.109em" textLength="105.2" lengthAdjust="spacingAndGlyphs">(Miniliming</text>
<text x="821.90" y="223.8" font-size="32.3" font-weight="normal" fill="#1b2e42" stroke="#1b2e42" stroke-width="0.45" stroke-linejoin="round" letter-spacing="0.109em" textLength="69.9" lengthAdjust="spacingAndGlyphs">Coating</text>
<text x="822.40" y="223.8" font-size="32.3" font-weight="normal" fill="#1b2e42" stroke="#1b2e42" stroke-width="0.45" stroke-linejoin="round" letter-spacing="0.109em" textLength="69.9" lengthAdjust="spacingAndGlyphs">Coating</text>
<text x="822.90" y="223.8" font-size="32.3" font-weight="normal" fill="#1b2e42" stroke="#1b2e42" stroke-width="0.45" stroke-linejoin="round" letter-spacing="0.109em" textLength="69.9" lengthAdjust="spacingAndGlyphs">Coating</text>
<text x="897.50" y="223.8" font-size="32.3" font-weight="normal" fill="#1b2e42" stroke="#1b2e42" stroke-width="0.45" stroke-linejoin="round" letter-spacing="0.109em" textLength="81.6" lengthAdjust="spacingAndGlyphs">Damage)</text>
<text x="898.00" y="223.8" font-size="32.3" font-weight="normal" fill="#1b2e42" stroke="#1b2e42" stroke-width="0.45" stroke-linejoin="round" letter-spacing="0.109em" textLength="81.6" lengthAdjust="spacingAndGlyphs">Damage)</text>
<text x="898.50" y="223.8" font-size="32.3" font-weight="normal" fill="#1b2e42" stroke="#1b2e42" stroke-width="0.45" stroke-linejoin="round" letter-spacing="0.109em" textLength="81.6" lengthAdjust="spacingAndGlyphs">Damage)</text>
<polygon points="732.8,310.3 776.8,279.6 784.0,287.0 788.0,286.0 792.0,290.0 796.0,293.0 795.0,298.0 799.0,301.0 758.6,327.9" fill="#bdc1c5" stroke="#1f2933" stroke-width="1.2" stroke-linejoin="round" />
<polygon points="758.6,327.9 799.0,301.0 797.0,308.0 800.0,312.0 798.0,320.0 756.3,349.0" fill="#b2b6ba" stroke="#1f2933" stroke-width="1.2" stroke-linejoin="round" />
<polygon points="732.8,310.3 758.6,327.9 756.3,349.0 732.8,333.8" fill="#bdc1c5" stroke="#1f2933" stroke-width="1.2" stroke-linejoin="round" />
<path d="M797,272 L801,268 L803,262 L807,258 L810,253 L809,250 L813,249 L814,253 L818,256 L823,255 L828,253 L826,258 L829,262 L830,268 L828,272" fill="none" stroke="#1f2933" stroke-width="1"/>
<path d="M788,285 L800,279 L806,274 L803,281 L792,289 Z" fill="#d5d9dc" stroke="#8b9198" stroke-width="0.6"/>
<path d="M815,285 l1.5,4 l-1,2" fill="none" stroke="#1f2933" stroke-width="1"/>
<path d="M818,259 l8,-2 l2,3 l-8,3 z" fill="#d5d9dc" stroke="#8b9198" stroke-width="0.6"/>
<path d="M716.1,305.9 L760.1,346.9 M760.1,304.5 L716.1,345.5" stroke="#d9272e" stroke-width="8" fill="none"/>
<path d="M871.4,322 C871,318 873,315.5 876,313.5 L946,262 C951,258.5 956,258 961,260 L972,266 C975.5,268 976,272 976,276 L976,288 C976,292 974,294 971,296 L899,348.5 C896.5,350.5 894,350.5 891,349 L877,342 C873.5,340 871.8,337 871.6,333 Z" fill="#bdc1c5" stroke="#1f2933" stroke-width="1.3" stroke-linejoin="round"/>
<path d="M873,316 L890,326 C893.5,328 895.5,330 896,334 L896.3,349.5 M893,328 L975,272" fill="none" stroke="#1f2933" stroke-width="1.1"/>
<path d="M932.9,271.6 L953.4,289.8 L952.6,305.9" fill="none" stroke="#a83236" stroke-width="1"/>
<path d="M938.8,341.1 L952,355.7 L982.7,319.1" stroke="#4fa653" stroke-width="7.6" fill="none" stroke-linejoin="miter"/>
<text x="725.81" y="387.5" font-size="20.9" font-weight="normal" fill="#1f2e3d" letter-spacing="0.125em" textLength="41.6" lengthAdjust="spacingAndGlyphs">SHARP</text>
<text x="726.27" y="387.5" font-size="20.9" font-weight="normal" fill="#1f2e3d" letter-spacing="0.125em" textLength="41.6" lengthAdjust="spacingAndGlyphs">SHARP</text>
<text x="726.73" y="387.5" font-size="20.9" font-weight="normal" fill="#1f2e3d" letter-spacing="0.125em" textLength="41.6" lengthAdjust="spacingAndGlyphs">SHARP</text>
<text x="771.21" y="387.5" font-size="20.9" font-weight="normal" fill="#1f2e3d" letter-spacing="0.125em" textLength="38.5" lengthAdjust="spacingAndGlyphs">EDGES</text>
<text x="771.67" y="387.5" font-size="20.9" font-weight="normal" fill="#1f2e3d" letter-spacing="0.125em" textLength="38.5" lengthAdjust="spacingAndGlyphs">EDGES</text>
<text x="772.13" y="387.5" font-size="20.9" font-weight="normal" fill="#1f2e3d" letter-spacing="0.125em" textLength="38.5" lengthAdjust="spacingAndGlyphs">EDGES</text>
<text x="717.94" y="408.8" font-size="20" font-weight="normal" fill="#1f2e3d" letter-spacing="0.125em" textLength="63.5" lengthAdjust="spacingAndGlyphs">(CRACKING</text>
<text x="718.38" y="408.8" font-size="20" font-weight="normal" fill="#1f2e3d" letter-spacing="0.125em" textLength="63.5" lengthAdjust="spacingAndGlyphs">(CRACKING</text>
<text x="718.82" y="408.8" font-size="20" font-weight="normal" fill="#1f2e3d" letter-spacing="0.125em" textLength="63.5" lengthAdjust="spacingAndGlyphs">(CRACKING</text>
<text x="785.44" y="408.8" font-size="20" font-weight="normal" fill="#1f2e3d" letter-spacing="0.125em" textLength="32.3" lengthAdjust="spacingAndGlyphs">RISK)</text>
<text x="785.88" y="408.8" font-size="20" font-weight="normal" fill="#1f2e3d" letter-spacing="0.125em" textLength="32.3" lengthAdjust="spacingAndGlyphs">RISK)</text>
<text x="786.32" y="408.8" font-size="20" font-weight="normal" fill="#1f2e3d" letter-spacing="0.125em" textLength="32.3" lengthAdjust="spacingAndGlyphs">RISK)</text>
<text x="867.93" y="387.8" font-size="20.4" font-weight="normal" fill="#1f2e3d" letter-spacing="0.125em" textLength="57.3" lengthAdjust="spacingAndGlyphs">ROUNDED</text>
<text x="868.38" y="387.8" font-size="20.4" font-weight="normal" fill="#1f2e3d" letter-spacing="0.125em" textLength="57.3" lengthAdjust="spacingAndGlyphs">ROUNDED</text>
<text x="868.83" y="387.8" font-size="20.4" font-weight="normal" fill="#1f2e3d" letter-spacing="0.125em" textLength="57.3" lengthAdjust="spacingAndGlyphs">ROUNDED</text>
<text x="928.93" y="387.8" font-size="20.4" font-weight="normal" fill="#1f2e3d" letter-spacing="0.125em" textLength="55.8" lengthAdjust="spacingAndGlyphs">CORNERS</text>
<text x="929.38" y="387.8" font-size="20.4" font-weight="normal" fill="#1f2e3d" letter-spacing="0.125em" textLength="55.8" lengthAdjust="spacingAndGlyphs">CORNERS</text>
<text x="929.83" y="387.8" font-size="20.4" font-weight="normal" fill="#1f2e3d" letter-spacing="0.125em" textLength="55.8" lengthAdjust="spacingAndGlyphs">CORNERS</text>
<text x="871.74" y="408.8" font-size="20" font-weight="normal" fill="#1f2e3d" letter-spacing="0.125em" textLength="47.2" lengthAdjust="spacingAndGlyphs">(RADIUS</text>
<text x="872.18" y="408.8" font-size="20" font-weight="normal" fill="#1f2e3d" letter-spacing="0.125em" textLength="47.2" lengthAdjust="spacingAndGlyphs">(RADIUS</text>
<text x="872.62" y="408.8" font-size="20" font-weight="normal" fill="#1f2e3d" letter-spacing="0.125em" textLength="47.2" lengthAdjust="spacingAndGlyphs">(RADIUS</text>
<text x="922.04" y="408.8" font-size="20" font-weight="normal" fill="#1f2e3d" letter-spacing="0.125em" textLength="55.4" lengthAdjust="spacingAndGlyphs">≥0.5mm)</text>
<text x="922.48" y="408.8" font-size="20" font-weight="normal" fill="#1f2e3d" letter-spacing="0.125em" textLength="55.4" lengthAdjust="spacingAndGlyphs">≥0.5mm)</text>
<text x="922.92" y="408.8" font-size="20" font-weight="normal" fill="#1f2e3d" letter-spacing="0.125em" textLength="55.4" lengthAdjust="spacingAndGlyphs">≥0.5mm)</text>
<rect x="713.4" y="436.6" width="107.2" height="112.2" fill="none" stroke="#2a343f" stroke-width="1.2"/>
<rect x="875" y="438.2" width="103" height="112" fill="none" stroke="#2a343f" stroke-width="1.2"/>
<path d="M738.5,457 L757,449.3 C761,447.6 764,448.5 767,451.5 L810,496 C813,499 813.5,502 813.2,506 C813,514 811,520 806,523 C800,527 794,529 789,529.6 C786,530 784,528.5 782,526.5 L735,478 C733.5,476.5 733.5,474.5 734,472.5 Z" fill="#bdc1c5" stroke="#1f2933" stroke-width="1.3" stroke-linejoin="round"/>
<path d="M738.5,457 L786,507 C788,509.5 788.5,512 788.2,516 L787.5,529 M787,508.5 C796,508 806,505 813,500.5" fill="none" stroke="#1f2933" stroke-width="1.1"/>
<path d="M777.6,462.8 L754.2,473.9 L748.3,488.6" fill="none" stroke="#b0282d" stroke-width="1.2"/>
<path d="M884.6,500 C884.3,496 886,493.5 889,491 L940,451 C945,447.3 950,446.8 955,449 L965.5,454.5 C969,456.5 970,460 970,464 L970,471 C970,475 968.5,477 965.5,479 L909,519.5 C906.5,521.3 904,521.3 901,519.8 L889,512.5 C886,510.5 884.8,508 884.7,504 Z" fill="#bdc1c5" stroke="#1f2933" stroke-width="1.3" stroke-linejoin="round"/>
<path d="M886,494.5 L901,502.5 C904,504.3 905.3,506 905.5,509.5 L905.3,520 M903.5,503.5 L969,459" fill="none" stroke="#1f2933" stroke-width="1.1"/>
<path d="M936,455 L953.5,468.5 L953,483" fill="none" stroke="#5b2a33" stroke-width="1"/>
<path d="M889,465.2 L962.2,539.9 M960.8,471 L889,541.3" stroke="#d9272e" stroke-width="6.6" fill="none"/>
<text x="712.00" y="579.9" font-size="21.3" font-weight="normal" fill="#1f2e3d" letter-spacing="0.125em" textLength="56.4" lengthAdjust="spacingAndGlyphs">ADHEIVE</text>
<text x="712.47" y="579.9" font-size="21.3" font-weight="normal" fill="#1f2e3d" letter-spacing="0.125em" textLength="56.4" lengthAdjust="spacingAndGlyphs">ADHEIVE</text>
<text x="712.94" y="579.9" font-size="21.3" font-weight="normal" fill="#1f2e3d" letter-spacing="0.125em" textLength="56.4" lengthAdjust="spacingAndGlyphs">ADHEIVE</text>
<text x="772.90" y="579.9" font-size="21.3" font-weight="normal" fill="#1f2e3d" letter-spacing="0.125em" textLength="64.4" lengthAdjust="spacingAndGlyphs">MOUNTING</text>
<text x="773.37" y="579.9" font-size="21.3" font-weight="normal" fill="#1f2e3d" letter-spacing="0.125em" textLength="64.4" lengthAdjust="spacingAndGlyphs">MOUNTING</text>
<text x="773.84" y="579.9" font-size="21.3" font-weight="normal" fill="#1f2e3d" letter-spacing="0.125em" textLength="64.4" lengthAdjust="spacingAndGlyphs">MOUNTING</text>
<text x="719.04" y="601.8" font-size="19.9" font-weight="normal" fill="#1f2e3d" letter-spacing="0.125em" textLength="61.4" lengthAdjust="spacingAndGlyphs">HIGH-TEMP</text>
<text x="719.48" y="601.8" font-size="19.9" font-weight="normal" fill="#1f2e3d" letter-spacing="0.125em" textLength="61.4" lengthAdjust="spacingAndGlyphs">HIGH-TEMP</text>
<text x="719.92" y="601.8" font-size="19.9" font-weight="normal" fill="#1f2e3d" letter-spacing="0.125em" textLength="61.4" lengthAdjust="spacingAndGlyphs">HIGH-TEMP</text>
<text x="784.94" y="601.8" font-size="19.9" font-weight="normal" fill="#1f2e3d" letter-spacing="0.125em" textLength="38.3" lengthAdjust="spacingAndGlyphs">EPOXY</text>
<text x="785.38" y="601.8" font-size="19.9" font-weight="normal" fill="#1f2e3d" letter-spacing="0.125em" textLength="38.3" lengthAdjust="spacingAndGlyphs">EPOXY</text>
<text x="785.82" y="601.8" font-size="19.9" font-weight="normal" fill="#1f2e3d" letter-spacing="0.125em" textLength="38.3" lengthAdjust="spacingAndGlyphs">EPOXY</text>
<text x="708.11" y="621.3" font-size="17.6" font-weight="normal" fill="#1f2e3d" letter-spacing="0.120em" textLength="15.3" lengthAdjust="spacingAndGlyphs">NO</text>
<text x="708.46" y="621.3" font-size="17.6" font-weight="normal" fill="#1f2e3d" letter-spacing="0.120em" textLength="15.3" lengthAdjust="spacingAndGlyphs">NO</text>
<text x="708.81" y="621.3" font-size="17.6" font-weight="normal" fill="#1f2e3d" letter-spacing="0.120em" textLength="15.3" lengthAdjust="spacingAndGlyphs">NO</text>
<text x="727.01" y="621.3" font-size="17.6" font-weight="normal" fill="#1f2e3d" letter-spacing="0.120em" textLength="25.4" lengthAdjust="spacingAndGlyphs">GAPS</text>
<text x="727.36" y="621.3" font-size="17.6" font-weight="normal" fill="#1f2e3d" letter-spacing="0.120em" textLength="25.4" lengthAdjust="spacingAndGlyphs">GAPS</text>
<text x="727.71" y="621.3" font-size="17.6" font-weight="normal" fill="#1f2e3d" letter-spacing="0.120em" textLength="25.4" lengthAdjust="spacingAndGlyphs">GAPS</text>
<text x="755.51" y="621.3" font-size="17.6" font-weight="normal" fill="#1f2e3d" letter-spacing="0.120em" textLength="5.9" lengthAdjust="spacingAndGlyphs">/</text>
<text x="755.86" y="621.3" font-size="17.6" font-weight="normal" fill="#1f2e3d" letter-spacing="0.120em" textLength="5.9" lengthAdjust="spacingAndGlyphs">/</text>
<text x="756.21" y="621.3" font-size="17.6" font-weight="normal" fill="#1f2e3d" letter-spacing="0.120em" textLength="5.9" lengthAdjust="spacingAndGlyphs">/</text>
<text x="765.01" y="621.3" font-size="17.6" font-weight="normal" fill="#1f2e3d" letter-spacing="0.120em" textLength="15.4" lengthAdjust="spacingAndGlyphs">NO</text>
<text x="765.36" y="621.3" font-size="17.6" font-weight="normal" fill="#1f2e3d" letter-spacing="0.120em" textLength="15.4" lengthAdjust="spacingAndGlyphs">NO</text>
<text x="765.71" y="621.3" font-size="17.6" font-weight="normal" fill="#1f2e3d" letter-spacing="0.120em" textLength="15.4" lengthAdjust="spacingAndGlyphs">NO</text>
<text x="784.01" y="621.3" font-size="17.6" font-weight="normal" fill="#1f2e3d" letter-spacing="0.120em" textLength="60.3" lengthAdjust="spacingAndGlyphs">SCRATCHSES</text>
<text x="784.36" y="621.3" font-size="17.6" font-weight="normal" fill="#1f2e3d" letter-spacing="0.120em" textLength="60.3" lengthAdjust="spacingAndGlyphs">SCRATCHSES</text>
<text x="784.71" y="621.3" font-size="17.6" font-weight="normal" fill="#1f2e3d" letter-spacing="0.120em" textLength="60.3" lengthAdjust="spacingAndGlyphs">SCRATCHSES</text>
<text x="865.34" y="576.7" font-size="20.1" font-weight="normal" fill="#1f2e3d" letter-spacing="0.125em" textLength="70.6" lengthAdjust="spacingAndGlyphs">SEGMENTED</text>
<text x="865.78" y="576.7" font-size="20.1" font-weight="normal" fill="#1f2e3d" letter-spacing="0.125em" textLength="70.6" lengthAdjust="spacingAndGlyphs">SEGMENTED</text>
<text x="866.22" y="576.7" font-size="20.1" font-weight="normal" fill="#1f2e3d" letter-spacing="0.125em" textLength="70.6" lengthAdjust="spacingAndGlyphs">SEGMENTED</text>
<text x="940.04" y="576.7" font-size="20.1" font-weight="normal" fill="#1f2e3d" letter-spacing="0.125em" textLength="50.7" lengthAdjust="spacingAndGlyphs">MAGNEN</text>
<text x="940.48" y="576.7" font-size="20.1" font-weight="normal" fill="#1f2e3d" letter-spacing="0.125em" textLength="50.7" lengthAdjust="spacingAndGlyphs">MAGNEN</text>
<text x="940.92" y="576.7" font-size="20.1" font-weight="normal" fill="#1f2e3d" letter-spacing="0.125em" textLength="50.7" lengthAdjust="spacingAndGlyphs">MAGNEN</text>
<text x="872.45" y="598.6" font-size="19.7" font-weight="normal" fill="#1f2e3d" letter-spacing="0.125em" textLength="52.5" lengthAdjust="spacingAndGlyphs">ISOLATES</text>
<text x="872.88" y="598.6" font-size="19.7" font-weight="normal" fill="#1f2e3d" letter-spacing="0.125em" textLength="52.5" lengthAdjust="spacingAndGlyphs">ISOLATES</text>
<text x="873.32" y="598.6" font-size="19.7" font-weight="normal" fill="#1f2e3d" letter-spacing="0.125em" textLength="52.5" lengthAdjust="spacingAndGlyphs">ISOLATES</text>
<text x="928.75" y="598.6" font-size="19.7" font-weight="normal" fill="#1f2e3d" letter-spacing="0.125em" textLength="4.3" lengthAdjust="spacingAndGlyphs">(</text>
<text x="929.18" y="598.6" font-size="19.7" font-weight="normal" fill="#1f2e3d" letter-spacing="0.125em" textLength="4.3" lengthAdjust="spacingAndGlyphs">(</text>
<text x="929.62" y="598.6" font-size="19.7" font-weight="normal" fill="#1f2e3d" letter-spacing="0.125em" textLength="4.3" lengthAdjust="spacingAndGlyphs">(</text>
<text x="934.95" y="598.6" font-size="19.7" font-weight="normal" fill="#1f2e3d" letter-spacing="0.125em" textLength="52.8" lengthAdjust="spacingAndGlyphs">CEDUCES</text>
<text x="935.38" y="598.6" font-size="19.7" font-weight="normal" fill="#1f2e3d" letter-spacing="0.125em" textLength="52.8" lengthAdjust="spacingAndGlyphs">CEDUCES</text>
<text x="935.82" y="598.6" font-size="19.7" font-weight="normal" fill="#1f2e3d" letter-spacing="0.125em" textLength="52.8" lengthAdjust="spacingAndGlyphs">CEDUCES</text>
<text x="880.75" y="618.6" font-size="19.7" font-weight="normal" fill="#1f2e3d" letter-spacing="0.125em" textLength="52.9" lengthAdjust="spacingAndGlyphs">THERMAL</text>
<text x="881.18" y="618.6" font-size="19.7" font-weight="normal" fill="#1f2e3d" letter-spacing="0.125em" textLength="52.9" lengthAdjust="spacingAndGlyphs">THERMAL</text>
<text x="881.62" y="618.6" font-size="19.7" font-weight="normal" fill="#1f2e3d" letter-spacing="0.125em" textLength="52.9" lengthAdjust="spacingAndGlyphs">THERMAL</text>
<text x="937.45" y="618.6" font-size="19.7" font-weight="normal" fill="#1f2e3d" letter-spacing="0.125em" textLength="41.0" lengthAdjust="spacingAndGlyphs">STRESS</text>
<text x="937.88" y="618.6" font-size="19.7" font-weight="normal" fill="#1f2e3d" letter-spacing="0.125em" textLength="41.0" lengthAdjust="spacingAndGlyphs">STRESS</text>
<text x="938.32" y="618.6" font-size="19.7" font-weight="normal" fill="#1f2e3d" letter-spacing="0.125em" textLength="41.0" lengthAdjust="spacingAndGlyphs">STRESS</text>
<circle cx="848.8" cy="766.8" r="110.8" fill="#c3c6ca" stroke="#1f2933" stroke-width="1.5"/>
<circle cx="848.8" cy="766.8" r="95.6" fill="#bbbfc3" stroke="#1f2933" stroke-width="1.4"/>
<circle cx="848.8" cy="766.8" r="49.9" fill="#c3c6ca" stroke="#1f2933" stroke-width="1.4"/>
<circle cx="848.8" cy="766.8" r="27.2" fill="#fefefe" stroke="#1f2933" stroke-width="1.5"/>
<g transform="translate(848.8,766.8) rotate(0.0)"><path d="M-6.2,-86.2 L6.2,-86.2 L5.4,-59.5 L-5.4,-59.5 Z" fill="#e3412f" stroke="#3e201d" stroke-width="1.1" stroke-linejoin="round"/></g>
<g transform="translate(848.8,766.8) rotate(15.0)"><path d="M-6.2,-86.2 L6.2,-86.2 L5.4,-59.5 L-5.4,-59.5 Z" fill="#e3412f" stroke="#3e201d" stroke-width="1.1" stroke-linejoin="round"/></g>
<g transform="translate(848.8,766.8) rotate(30.0)"><path d="M-6.2,-86.2 L6.2,-86.2 L5.4,-59.5 L-5.4,-59.5 Z" fill="#e3412f" stroke="#3e201d" stroke-width="1.1" stroke-linejoin="round"/></g>
<g transform="translate(848.8,766.8) rotate(45.0)"><path d="M-6.2,-86.2 L6.2,-86.2 L5.4,-59.5 L-5.4,-59.5 Z" fill="#e3412f" stroke="#3e201d" stroke-width="1.1" stroke-linejoin="round"/></g>
<g transform="translate(848.8,766.8) rotate(60.0)"><path d="M-6.2,-86.2 L6.2,-86.2 L5.4,-59.5 L-5.4,-59.5 Z" fill="#e3412f" stroke="#3e201d" stroke-width="1.1" stroke-linejoin="round"/></g>
<g transform="translate(848.8,766.8) rotate(75.0)"><path d="M-6.2,-86.2 L6.2,-86.2 L5.4,-59.5 L-5.4,-59.5 Z" fill="#e3412f" stroke="#3e201d" stroke-width="1.1" stroke-linejoin="round"/></g>
<g transform="translate(848.8,766.8) rotate(90.0)"><path d="M-6.2,-86.2 L6.2,-86.2 L5.4,-59.5 L-5.4,-59.5 Z" fill="#e3412f" stroke="#3e201d" stroke-width="1.1" stroke-linejoin="round"/></g>
<g transform="translate(848.8,766.8) rotate(105.0)"><path d="M-6.2,-86.2 L6.2,-86.2 L5.4,-59.5 L-5.4,-59.5 Z" fill="#e3412f" stroke="#3e201d" stroke-width="1.1" stroke-linejoin="round"/></g>
<g transform="translate(848.8,766.8) rotate(120.0)"><path d="M-6.2,-86.2 L6.2,-86.2 L5.4,-59.5 L-5.4,-59.5 Z" fill="#e3412f" stroke="#3e201d" stroke-width="1.1" stroke-linejoin="round"/></g>
<g transform="translate(848.8,766.8) rotate(135.0)"><path d="M-6.2,-86.2 L6.2,-86.2 L5.4,-59.5 L-5.4,-59.5 Z" fill="#e3412f" stroke="#3e201d" stroke-width="1.1" stroke-linejoin="round"/></g>
<g transform="translate(848.8,766.8) rotate(150.0)"><path d="M-6.2,-86.2 L6.2,-86.2 L5.4,-59.5 L-5.4,-59.5 Z" fill="#e3412f" stroke="#3e201d" stroke-width="1.1" stroke-linejoin="round"/></g>
<g transform="translate(848.8,766.8) rotate(165.0)"><path d="M-6.2,-86.2 L6.2,-86.2 L5.4,-59.5 L-5.4,-59.5 Z" fill="#e3412f" stroke="#3e201d" stroke-width="1.1" stroke-linejoin="round"/></g>
<g transform="translate(848.8,766.8) rotate(180.0)"><path d="M-6.2,-86.2 L6.2,-86.2 L5.4,-59.5 L-5.4,-59.5 Z" fill="#e3412f" stroke="#3e201d" stroke-width="1.1" stroke-linejoin="round"/></g>
<g transform="translate(848.8,766.8) rotate(195.0)"><path d="M-6.2,-86.2 L6.2,-86.2 L5.4,-59.5 L-5.4,-59.5 Z" fill="#e3412f" stroke="#3e201d" stroke-width="1.1" stroke-linejoin="round"/></g>
<g transform="translate(848.8,766.8) rotate(210.0)"><path d="M-6.2,-86.2 L6.2,-86.2 L5.4,-59.5 L-5.4,-59.5 Z" fill="#e3412f" stroke="#3e201d" stroke-width="1.1" stroke-linejoin="round"/></g>
<g transform="translate(848.8,766.8) rotate(225.0)"><path d="M-6.2,-86.2 L6.2,-86.2 L5.4,-59.5 L-5.4,-59.5 Z" fill="#e3412f" stroke="#3e201d" stroke-width="1.1" stroke-linejoin="round"/></g>
<g transform="translate(848.8,766.8) rotate(240.0)"><path d="M-6.2,-86.2 L6.2,-86.2 L5.4,-59.5 L-5.4,-59.5 Z" fill="#e3412f" stroke="#3e201d" stroke-width="1.1" stroke-linejoin="round"/></g>
<g transform="translate(848.8,766.8) rotate(255.0)"><path d="M-6.2,-86.2 L6.2,-86.2 L5.4,-59.5 L-5.4,-59.5 Z" fill="#e3412f" stroke="#3e201d" stroke-width="1.1" stroke-linejoin="round"/></g>
<g transform="translate(848.8,766.8) rotate(270.0)"><path d="M-6.2,-86.2 L6.2,-86.2 L5.4,-59.5 L-5.4,-59.5 Z" fill="#e3412f" stroke="#3e201d" stroke-width="1.1" stroke-linejoin="round"/></g>
<g transform="translate(848.8,766.8) rotate(285.0)"><path d="M-6.2,-86.2 L6.2,-86.2 L5.4,-59.5 L-5.4,-59.5 Z" fill="#e3412f" stroke="#3e201d" stroke-width="1.1" stroke-linejoin="round"/></g>
<g transform="translate(848.8,766.8) rotate(300.0)"><path d="M-6.2,-86.2 L6.2,-86.2 L5.4,-59.5 L-5.4,-59.5 Z" fill="#e3412f" stroke="#3e201d" stroke-width="1.1" stroke-linejoin="round"/></g>
<g transform="translate(848.8,766.8) rotate(315.0)"><path d="M-6.2,-86.2 L6.2,-86.2 L5.4,-59.5 L-5.4,-59.5 Z" fill="#e3412f" stroke="#3e201d" stroke-width="1.1" stroke-linejoin="round"/></g>
<g transform="translate(848.8,766.8) rotate(330.0)"><path d="M-6.2,-86.2 L6.2,-86.2 L5.4,-59.5 L-5.4,-59.5 Z" fill="#e3412f" stroke="#3e201d" stroke-width="1.1" stroke-linejoin="round"/></g>
<g transform="translate(848.8,766.8) rotate(345.0)"><path d="M-6.2,-86.2 L6.2,-86.2 L5.4,-59.5 L-5.4,-59.5 Z" fill="#e3412f" stroke="#3e201d" stroke-width="1.1" stroke-linejoin="round"/></g>
<circle cx="848.8" cy="663.8" r="7.3" fill="#c3c6ca" stroke="#1f2933" stroke-width="1.3"/>
<circle cx="918.9" cy="691.3" r="7.3" fill="#c3c6ca" stroke="#1f2933" stroke-width="1.3"/>
<circle cx="951.7" cy="770.6" r="7.3" fill="#c3c6ca" stroke="#1f2933" stroke-width="1.3"/>
<circle cx="925.8" cy="835.2" r="7.3" fill="#c3c6ca" stroke="#1f2933" stroke-width="1.3"/>
<circle cx="847.7" cy="869.8" r="7.3" fill="#c3c6ca" stroke="#1f2933" stroke-width="1.3"/>
<circle cx="777.6" cy="841.3" r="7.3" fill="#c3c6ca" stroke="#1f2933" stroke-width="1.3"/>
<circle cx="745.8" cy="766.8" r="7.3" fill="#c3c6ca" stroke="#1f2933" stroke-width="1.3"/>
<circle cx="770.2" cy="700.2" r="7.3" fill="#c3c6ca" stroke="#1f2933" stroke-width="1.3"/>
<circle cx="888.8" cy="766.8" r="2.8" fill="#e8eaec" stroke="#1f2933" stroke-width="1"/>
<circle cx="848.8" cy="806.8" r="2.8" fill="#e8eaec" stroke="#1f2933" stroke-width="1"/>
<circle cx="808.8" cy="766.8" r="2.8" fill="#e8eaec" stroke="#1f2933" stroke-width="1"/>
<circle cx="848.8" cy="726.8" r="2.8" fill="#e8eaec" stroke="#1f2933" stroke-width="1"/>
<circle cx="710.9" cy="926.6" r="4.5" fill="#f5f7f9"/>
<text x="731.95" y="936.3" font-size="26.8" font-weight="normal" fill="#f5f7f9" stroke="#f5f7f9" stroke-width="0.45" stroke-linejoin="round" letter-spacing="0.140em" textLength="188.5" lengthAdjust="spacingAndGlyphs">SEGEMETION-RESISTANT</text>
<text x="732.70" y="936.3" font-size="26.8" font-weight="normal" fill="#f5f7f9" stroke="#f5f7f9" stroke-width="0.45" stroke-linejoin="round" letter-spacing="0.140em" textLength="188.5" lengthAdjust="spacingAndGlyphs">SEGEMETION-RESISTANT</text>
<text x="733.45" y="936.3" font-size="26.8" font-weight="normal" fill="#f5f7f9" stroke="#f5f7f9" stroke-width="0.45" stroke-linejoin="round" letter-spacing="0.140em" textLength="188.5" lengthAdjust="spacingAndGlyphs">SEGEMETION-RESISTANT</text>
<text x="731.97" y="965.0" font-size="25.9" font-weight="normal" fill="#f5f7f9" stroke="#f5f7f9" stroke-width="0.45" stroke-linejoin="round" letter-spacing="0.142em" textLength="49.6" lengthAdjust="spacingAndGlyphs">ROTOR</text>
<text x="732.72" y="965.0" font-size="25.9" font-weight="normal" fill="#f5f7f9" stroke="#f5f7f9" stroke-width="0.45" stroke-linejoin="round" letter-spacing="0.142em" textLength="49.6" lengthAdjust="spacingAndGlyphs">ROTOR</text>
<text x="733.47" y="965.0" font-size="25.9" font-weight="normal" fill="#f5f7f9" stroke="#f5f7f9" stroke-width="0.45" stroke-linejoin="round" letter-spacing="0.142em" textLength="49.6" lengthAdjust="spacingAndGlyphs">ROTOR</text>
<text x="786.37" y="965.0" font-size="25.9" font-weight="normal" fill="#f5f7f9" stroke="#f5f7f9" stroke-width="0.45" stroke-linejoin="round" letter-spacing="0.142em" textLength="89.0" lengthAdjust="spacingAndGlyphs">MATERIALS:</text>
<text x="787.12" y="965.0" font-size="25.9" font-weight="normal" fill="#f5f7f9" stroke="#f5f7f9" stroke-width="0.45" stroke-linejoin="round" letter-spacing="0.142em" textLength="89.0" lengthAdjust="spacingAndGlyphs">MATERIALS:</text>
<text x="787.87" y="965.0" font-size="25.9" font-weight="normal" fill="#f5f7f9" stroke="#f5f7f9" stroke-width="0.45" stroke-linejoin="round" letter-spacing="0.142em" textLength="89.0" lengthAdjust="spacingAndGlyphs">MATERIALS:</text>
<text x="731.97" y="993.3" font-size="26.1" font-weight="normal" fill="#f5f7f9" stroke="#f5f7f9" stroke-width="0.45" stroke-linejoin="round" letter-spacing="0.142em" textLength="84.4" lengthAdjust="spacingAndGlyphs">ALUMINIUM</text>
<text x="732.72" y="993.3" font-size="26.1" font-weight="normal" fill="#f5f7f9" stroke="#f5f7f9" stroke-width="0.45" stroke-linejoin="round" letter-spacing="0.142em" textLength="84.4" lengthAdjust="spacingAndGlyphs">ALUMINIUM</text>
<text x="733.47" y="993.3" font-size="26.1" font-weight="normal" fill="#f5f7f9" stroke="#f5f7f9" stroke-width="0.45" stroke-linejoin="round" letter-spacing="0.142em" textLength="84.4" lengthAdjust="spacingAndGlyphs">ALUMINIUM</text>
<text x="821.57" y="993.3" font-size="26.1" font-weight="normal" fill="#f5f7f9" stroke="#f5f7f9" stroke-width="0.45" stroke-linejoin="round" letter-spacing="0.142em" textLength="7.0" lengthAdjust="spacingAndGlyphs">/</text>
<text x="822.32" y="993.3" font-size="26.1" font-weight="normal" fill="#f5f7f9" stroke="#f5f7f9" stroke-width="0.45" stroke-linejoin="round" letter-spacing="0.142em" textLength="7.0" lengthAdjust="spacingAndGlyphs">/</text>
<text x="823.07" y="993.3" font-size="26.1" font-weight="normal" fill="#f5f7f9" stroke="#f5f7f9" stroke-width="0.45" stroke-linejoin="round" letter-spacing="0.142em" textLength="7.0" lengthAdjust="spacingAndGlyphs">/</text>
<text x="833.27" y="993.3" font-size="26.1" font-weight="normal" fill="#f5f7f9" stroke="#f5f7f9" stroke-width="0.45" stroke-linejoin="round" letter-spacing="0.142em" textLength="78.5" lengthAdjust="spacingAndGlyphs">STAINLESS</text>
<text x="834.02" y="993.3" font-size="26.1" font-weight="normal" fill="#f5f7f9" stroke="#f5f7f9" stroke-width="0.45" stroke-linejoin="round" letter-spacing="0.142em" textLength="78.5" lengthAdjust="spacingAndGlyphs">STAINLESS</text>
<text x="834.77" y="993.3" font-size="26.1" font-weight="normal" fill="#f5f7f9" stroke="#f5f7f9" stroke-width="0.45" stroke-linejoin="round" letter-spacing="0.142em" textLength="78.5" lengthAdjust="spacingAndGlyphs">STAINLESS</text>
<text x="916.47" y="993.3" font-size="26.1" font-weight="normal" fill="#f5f7f9" stroke="#f5f7f9" stroke-width="0.45" stroke-linejoin="round" letter-spacing="0.142em" textLength="43.4" lengthAdjust="spacingAndGlyphs">STEEL</text>
<text x="917.22" y="993.3" font-size="26.1" font-weight="normal" fill="#f5f7f9" stroke="#f5f7f9" stroke-width="0.45" stroke-linejoin="round" letter-spacing="0.142em" textLength="43.4" lengthAdjust="spacingAndGlyphs">STEEL</text>
<text x="917.97" y="993.3" font-size="26.1" font-weight="normal" fill="#f5f7f9" stroke="#f5f7f9" stroke-width="0.45" stroke-linejoin="round" letter-spacing="0.142em" textLength="43.4" lengthAdjust="spacingAndGlyphs">STEEL</text>
<path d="M968.2,943.7 C971,957 979,965 992,968.1 C979,971 971,979 968.2,992.5 C965.5,979 957.5,971 944.4,968.1 C957.5,965 965.5,957 968.2,943.7 Z" fill="#8e9db0" opacity="0.95"/>
</svg>
</body></html>
